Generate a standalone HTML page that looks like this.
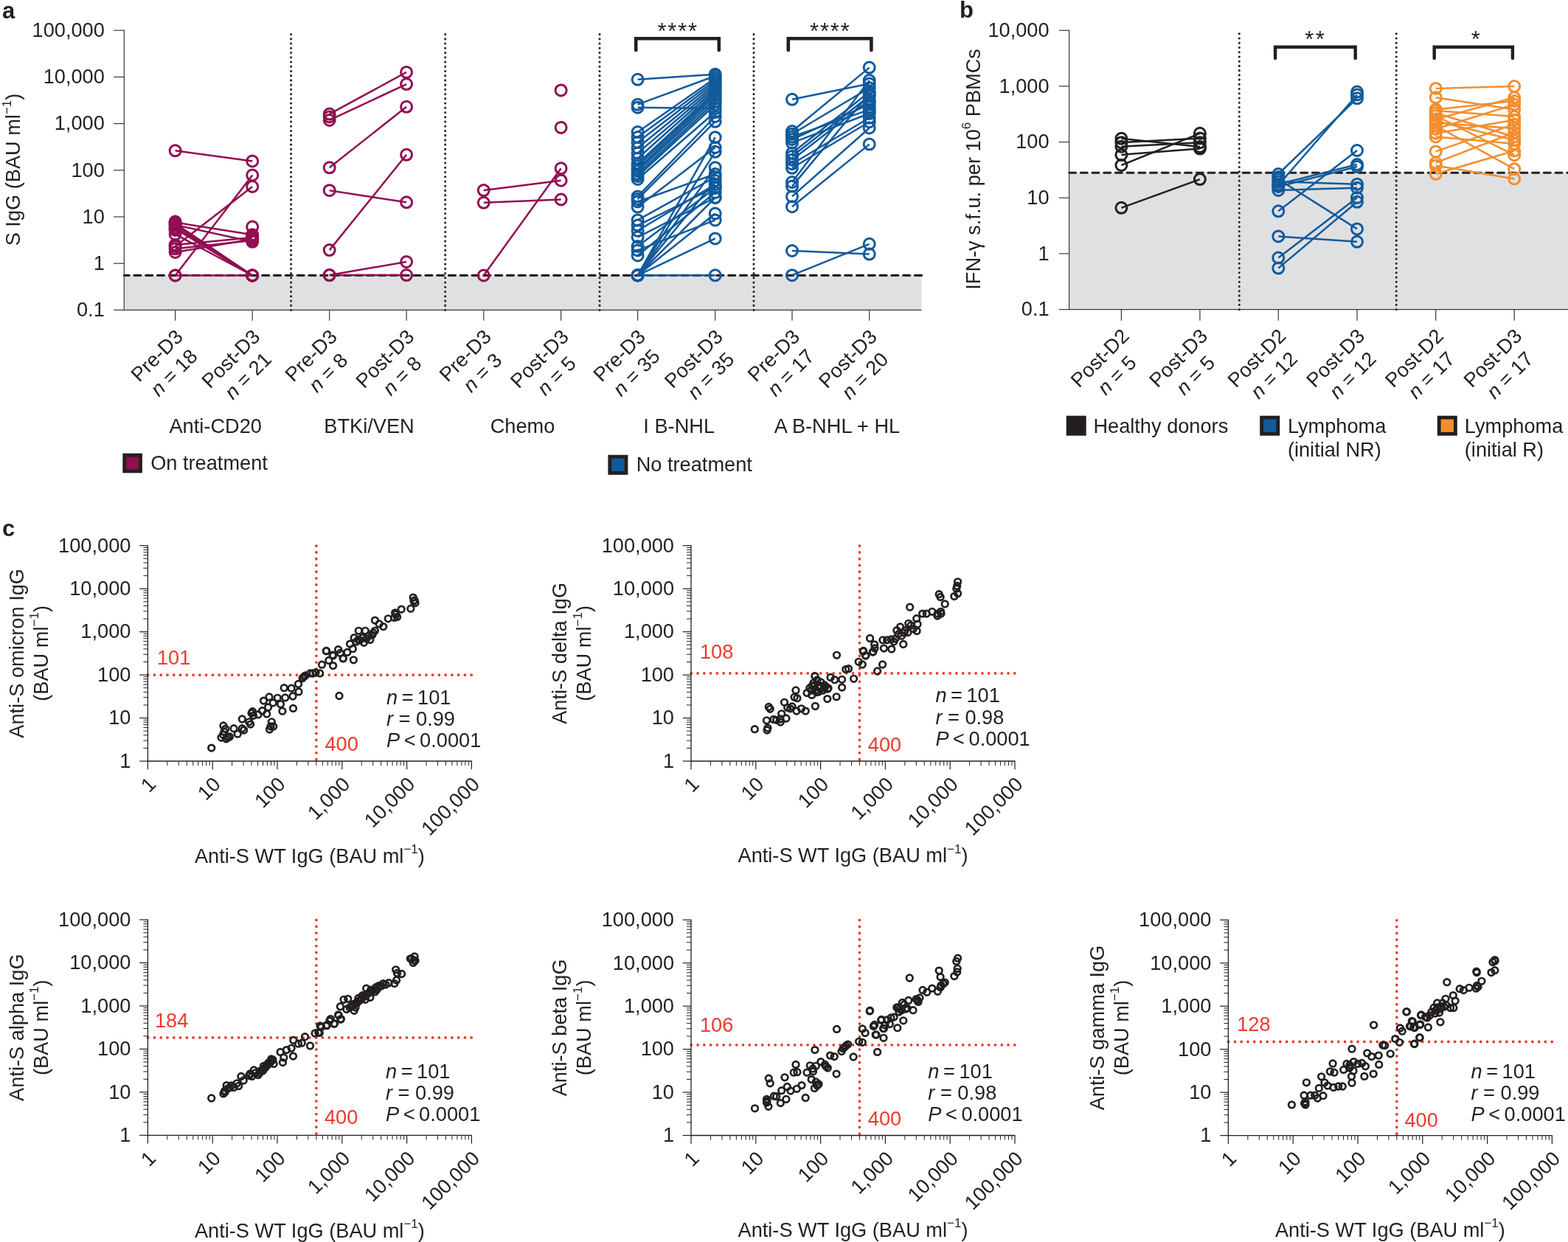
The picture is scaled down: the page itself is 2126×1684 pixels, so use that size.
<!DOCTYPE html>
<html><head><meta charset="utf-8"><title>Figure</title>
<style>
html,body{margin:0;padding:0;background:#fff;}
svg{display:block;}
text{font-family:"Liberation Sans",Arial,Helvetica,sans-serif;}
</style></head>
<body>
<svg width="2126" height="1684" viewBox="0 0 2126 1684" fill="#231f20">
<rect x="0" y="0" width="2126" height="1684" fill="#fff"/>
<text x="3.00" y="24.60" font-size="31" font-weight="bold">a</text>
<text x="1301.00" y="24.30" font-size="31" font-weight="bold">b</text>
<text x="3.00" y="727.20" font-size="31" font-weight="bold">c</text>
<rect x="168.3" y="373.3" width="1081.2" height="47.10000000000002" fill="#dfe0e2"/>
<line x1="394.60" y1="420.40" x2="394.60" y2="40.50" stroke="#231f20" stroke-width="3.1" stroke-dasharray="0 6.23" stroke-linecap="round"/>
<line x1="603.70" y1="420.40" x2="603.70" y2="40.50" stroke="#231f20" stroke-width="3.1" stroke-dasharray="0 6.23" stroke-linecap="round"/>
<line x1="813.00" y1="420.40" x2="813.00" y2="40.50" stroke="#231f20" stroke-width="3.1" stroke-dasharray="0 6.23" stroke-linecap="round"/>
<line x1="1022.00" y1="420.40" x2="1022.00" y2="40.50" stroke="#231f20" stroke-width="3.1" stroke-dasharray="0 6.23" stroke-linecap="round"/>
<line x1="1249.50" y1="373.30" x2="168.30" y2="373.30" stroke="#231f20" stroke-width="3.2" stroke-dasharray="9.0 6.8" stroke-linecap="round"/>
<line x1="168.30" y1="40.60" x2="168.30" y2="421.00" stroke="#3a3a3a" stroke-width="1.2"/>
<line x1="168.30" y1="420.40" x2="1249.50" y2="420.40" stroke="#3a3a3a" stroke-width="1.2"/>
<line x1="154.00" y1="41.20" x2="168.30" y2="41.20" stroke="#3a3a3a" stroke-width="1.2"/>
<text x="141.80" y="50.00" font-size="27.2" text-anchor="end">100,000</text>
<line x1="154.00" y1="104.40" x2="168.30" y2="104.40" stroke="#3a3a3a" stroke-width="1.2"/>
<text x="141.80" y="113.20" font-size="27.2" text-anchor="end">10,000</text>
<line x1="154.00" y1="167.60" x2="168.30" y2="167.60" stroke="#3a3a3a" stroke-width="1.2"/>
<text x="141.80" y="176.40" font-size="27.2" text-anchor="end">1,000</text>
<line x1="154.00" y1="230.80" x2="168.30" y2="230.80" stroke="#3a3a3a" stroke-width="1.2"/>
<text x="141.80" y="239.60" font-size="27.2" text-anchor="end">100</text>
<line x1="154.00" y1="294.00" x2="168.30" y2="294.00" stroke="#3a3a3a" stroke-width="1.2"/>
<text x="141.80" y="302.80" font-size="27.2" text-anchor="end">10</text>
<line x1="154.00" y1="357.20" x2="168.30" y2="357.20" stroke="#3a3a3a" stroke-width="1.2"/>
<text x="141.80" y="366.00" font-size="27.2" text-anchor="end">1</text>
<line x1="154.00" y1="420.40" x2="168.30" y2="420.40" stroke="#3a3a3a" stroke-width="1.2"/>
<text x="141.80" y="429.20" font-size="27.2" text-anchor="end">0.1</text>
<text transform="translate(27.0,230) rotate(-90)" font-size="27.2" text-anchor="middle">S IgG (BAU ml<tspan dy="-12.5" font-size="17">−1</tspan><tspan dy="12.5">)</tspan></text>
<line x1="237.60" y1="204.30" x2="342.20" y2="218.50" stroke="#910e51" stroke-width="2.5"/>
<line x1="237.60" y1="373.50" x2="342.20" y2="237.50" stroke="#910e51" stroke-width="2.5"/>
<line x1="237.60" y1="334.00" x2="342.20" y2="253.00" stroke="#910e51" stroke-width="2.5"/>
<line x1="237.60" y1="301.60" x2="342.20" y2="318.30" stroke="#910e51" stroke-width="2.5"/>
<line x1="237.60" y1="303.00" x2="342.20" y2="373.50" stroke="#910e51" stroke-width="2.5"/>
<line x1="237.60" y1="305.80" x2="342.20" y2="373.50" stroke="#910e51" stroke-width="2.5"/>
<line x1="237.60" y1="308.80" x2="342.20" y2="373.50" stroke="#910e51" stroke-width="2.5"/>
<line x1="237.60" y1="310.00" x2="342.20" y2="373.50" stroke="#910e51" stroke-width="2.5"/>
<line x1="237.60" y1="317.70" x2="342.20" y2="373.50" stroke="#910e51" stroke-width="2.5"/>
<line x1="237.60" y1="337.30" x2="342.20" y2="326.00" stroke="#910e51" stroke-width="2.5"/>
<line x1="237.60" y1="342.00" x2="342.20" y2="324.20" stroke="#910e51" stroke-width="2.5"/>
<line x1="237.60" y1="373.50" x2="342.20" y2="373.50" stroke="#910e51" stroke-width="2.5"/>
<line x1="237.60" y1="305.00" x2="342.20" y2="327.80" stroke="#910e51" stroke-width="2.5"/>
<line x1="237.60" y1="332.00" x2="342.20" y2="322.00" stroke="#910e51" stroke-width="2.5"/>
<circle cx="237.6" cy="204.3" r="7.5" fill="none" stroke="#910e51" stroke-width="3.0"/>
<circle cx="342.2" cy="218.5" r="7.5" fill="none" stroke="#910e51" stroke-width="3.0"/>
<circle cx="237.6" cy="373.5" r="7.5" fill="none" stroke="#910e51" stroke-width="3.0"/>
<circle cx="342.2" cy="237.5" r="7.5" fill="none" stroke="#910e51" stroke-width="3.0"/>
<circle cx="237.6" cy="334" r="7.5" fill="none" stroke="#910e51" stroke-width="3.0"/>
<circle cx="342.2" cy="253" r="7.5" fill="none" stroke="#910e51" stroke-width="3.0"/>
<circle cx="237.6" cy="301.6" r="7.5" fill="none" stroke="#910e51" stroke-width="3.0"/>
<circle cx="342.2" cy="318.3" r="7.5" fill="none" stroke="#910e51" stroke-width="3.0"/>
<circle cx="237.6" cy="303" r="7.5" fill="none" stroke="#910e51" stroke-width="3.0"/>
<circle cx="342.2" cy="373.5" r="7.5" fill="none" stroke="#910e51" stroke-width="3.0"/>
<circle cx="237.6" cy="305.8" r="7.5" fill="none" stroke="#910e51" stroke-width="3.0"/>
<circle cx="342.2" cy="373.5" r="7.5" fill="none" stroke="#910e51" stroke-width="3.0"/>
<circle cx="237.6" cy="308.8" r="7.5" fill="none" stroke="#910e51" stroke-width="3.0"/>
<circle cx="342.2" cy="373.5" r="7.5" fill="none" stroke="#910e51" stroke-width="3.0"/>
<circle cx="237.6" cy="310" r="7.5" fill="none" stroke="#910e51" stroke-width="3.0"/>
<circle cx="342.2" cy="373.5" r="7.5" fill="none" stroke="#910e51" stroke-width="3.0"/>
<circle cx="237.6" cy="317.7" r="7.5" fill="none" stroke="#910e51" stroke-width="3.0"/>
<circle cx="342.2" cy="373.5" r="7.5" fill="none" stroke="#910e51" stroke-width="3.0"/>
<circle cx="237.6" cy="337.3" r="7.5" fill="none" stroke="#910e51" stroke-width="3.0"/>
<circle cx="342.2" cy="326" r="7.5" fill="none" stroke="#910e51" stroke-width="3.0"/>
<circle cx="237.6" cy="342" r="7.5" fill="none" stroke="#910e51" stroke-width="3.0"/>
<circle cx="342.2" cy="324.2" r="7.5" fill="none" stroke="#910e51" stroke-width="3.0"/>
<circle cx="237.6" cy="373.5" r="7.5" fill="none" stroke="#910e51" stroke-width="3.0"/>
<circle cx="342.2" cy="373.5" r="7.5" fill="none" stroke="#910e51" stroke-width="3.0"/>
<circle cx="237.6" cy="305" r="7.5" fill="none" stroke="#910e51" stroke-width="3.0"/>
<circle cx="342.2" cy="327.8" r="7.5" fill="none" stroke="#910e51" stroke-width="3.0"/>
<circle cx="237.6" cy="332" r="7.5" fill="none" stroke="#910e51" stroke-width="3.0"/>
<circle cx="342.2" cy="322" r="7.5" fill="none" stroke="#910e51" stroke-width="3.0"/>
<circle cx="237.6" cy="300.5" r="7.5" fill="none" stroke="#910e51" stroke-width="3.0"/>
<circle cx="237.6" cy="312" r="7.5" fill="none" stroke="#910e51" stroke-width="3.0"/>
<circle cx="342.2" cy="307.6" r="7.5" fill="none" stroke="#910e51" stroke-width="3.0"/>
<circle cx="342.2" cy="320" r="7.5" fill="none" stroke="#910e51" stroke-width="3.0"/>
<line x1="446.70" y1="154.60" x2="551.10" y2="97.90" stroke="#910e51" stroke-width="2.5"/>
<line x1="446.70" y1="162.90" x2="551.10" y2="114.10" stroke="#910e51" stroke-width="2.5"/>
<line x1="446.70" y1="227.30" x2="551.10" y2="144.80" stroke="#910e51" stroke-width="2.5"/>
<line x1="446.70" y1="258.20" x2="551.10" y2="274.30" stroke="#910e51" stroke-width="2.5"/>
<line x1="446.70" y1="339.10" x2="551.10" y2="209.80" stroke="#910e51" stroke-width="2.5"/>
<line x1="446.70" y1="373.10" x2="551.10" y2="354.90" stroke="#910e51" stroke-width="2.5"/>
<line x1="446.70" y1="373.10" x2="551.10" y2="373.10" stroke="#910e51" stroke-width="2.5"/>
<circle cx="446.7" cy="154.6" r="7.5" fill="none" stroke="#910e51" stroke-width="3.0"/>
<circle cx="551.1" cy="97.9" r="7.5" fill="none" stroke="#910e51" stroke-width="3.0"/>
<circle cx="446.7" cy="162.9" r="7.5" fill="none" stroke="#910e51" stroke-width="3.0"/>
<circle cx="551.1" cy="114.1" r="7.5" fill="none" stroke="#910e51" stroke-width="3.0"/>
<circle cx="446.7" cy="227.3" r="7.5" fill="none" stroke="#910e51" stroke-width="3.0"/>
<circle cx="551.1" cy="144.8" r="7.5" fill="none" stroke="#910e51" stroke-width="3.0"/>
<circle cx="446.7" cy="258.2" r="7.5" fill="none" stroke="#910e51" stroke-width="3.0"/>
<circle cx="551.1" cy="274.3" r="7.5" fill="none" stroke="#910e51" stroke-width="3.0"/>
<circle cx="446.7" cy="339.1" r="7.5" fill="none" stroke="#910e51" stroke-width="3.0"/>
<circle cx="551.1" cy="209.8" r="7.5" fill="none" stroke="#910e51" stroke-width="3.0"/>
<circle cx="446.7" cy="373.1" r="7.5" fill="none" stroke="#910e51" stroke-width="3.0"/>
<circle cx="551.1" cy="354.9" r="7.5" fill="none" stroke="#910e51" stroke-width="3.0"/>
<circle cx="446.7" cy="373.1" r="7.5" fill="none" stroke="#910e51" stroke-width="3.0"/>
<circle cx="551.1" cy="373.1" r="7.5" fill="none" stroke="#910e51" stroke-width="3.0"/>
<circle cx="446.7" cy="158.5" r="7.5" fill="none" stroke="#910e51" stroke-width="3.0"/>
<line x1="655.80" y1="258.10" x2="760.60" y2="244.70" stroke="#910e51" stroke-width="2.5"/>
<line x1="655.80" y1="274.80" x2="760.60" y2="270.50" stroke="#910e51" stroke-width="2.5"/>
<line x1="655.80" y1="373.50" x2="760.60" y2="228.30" stroke="#910e51" stroke-width="2.5"/>
<circle cx="655.8" cy="258.1" r="7.5" fill="none" stroke="#910e51" stroke-width="3.0"/>
<circle cx="760.6" cy="244.7" r="7.5" fill="none" stroke="#910e51" stroke-width="3.0"/>
<circle cx="655.8" cy="274.8" r="7.5" fill="none" stroke="#910e51" stroke-width="3.0"/>
<circle cx="760.6" cy="270.5" r="7.5" fill="none" stroke="#910e51" stroke-width="3.0"/>
<circle cx="655.8" cy="373.5" r="7.5" fill="none" stroke="#910e51" stroke-width="3.0"/>
<circle cx="760.6" cy="228.3" r="7.5" fill="none" stroke="#910e51" stroke-width="3.0"/>
<circle cx="760.6" cy="122.4" r="7.5" fill="none" stroke="#910e51" stroke-width="3.0"/>
<circle cx="760.6" cy="172.9" r="7.5" fill="none" stroke="#910e51" stroke-width="3.0"/>
<line x1="864.60" y1="107.80" x2="969.70" y2="100.70" stroke="#115a9b" stroke-width="2.5"/>
<line x1="864.60" y1="141.70" x2="969.70" y2="103.00" stroke="#115a9b" stroke-width="2.5"/>
<line x1="864.60" y1="145.70" x2="969.70" y2="147.00" stroke="#115a9b" stroke-width="2.5"/>
<line x1="864.60" y1="179.00" x2="969.70" y2="106.00" stroke="#115a9b" stroke-width="2.5"/>
<line x1="864.60" y1="186.00" x2="969.70" y2="109.00" stroke="#115a9b" stroke-width="2.5"/>
<line x1="864.60" y1="193.00" x2="969.70" y2="112.00" stroke="#115a9b" stroke-width="2.5"/>
<line x1="864.60" y1="200.50" x2="969.70" y2="115.00" stroke="#115a9b" stroke-width="2.5"/>
<line x1="864.60" y1="207.60" x2="969.70" y2="118.00" stroke="#115a9b" stroke-width="2.5"/>
<line x1="864.60" y1="214.70" x2="969.70" y2="121.00" stroke="#115a9b" stroke-width="2.5"/>
<line x1="864.60" y1="221.80" x2="969.70" y2="124.00" stroke="#115a9b" stroke-width="2.5"/>
<line x1="864.60" y1="225.00" x2="969.70" y2="127.00" stroke="#115a9b" stroke-width="2.5"/>
<line x1="864.60" y1="229.00" x2="969.70" y2="130.00" stroke="#115a9b" stroke-width="2.5"/>
<line x1="864.60" y1="232.00" x2="969.70" y2="134.00" stroke="#115a9b" stroke-width="2.5"/>
<line x1="864.60" y1="236.00" x2="969.70" y2="138.00" stroke="#115a9b" stroke-width="2.5"/>
<line x1="864.60" y1="239.00" x2="969.70" y2="142.00" stroke="#115a9b" stroke-width="2.5"/>
<line x1="864.60" y1="243.00" x2="969.70" y2="152.00" stroke="#115a9b" stroke-width="2.5"/>
<line x1="864.60" y1="266.40" x2="969.70" y2="158.00" stroke="#115a9b" stroke-width="2.5"/>
<line x1="864.60" y1="270.00" x2="969.70" y2="164.80" stroke="#115a9b" stroke-width="2.5"/>
<line x1="864.60" y1="273.50" x2="969.70" y2="236.00" stroke="#115a9b" stroke-width="2.5"/>
<line x1="864.60" y1="280.60" x2="969.70" y2="200.00" stroke="#115a9b" stroke-width="2.5"/>
<line x1="864.60" y1="298.40" x2="969.70" y2="240.00" stroke="#115a9b" stroke-width="2.5"/>
<line x1="864.60" y1="305.60" x2="969.70" y2="254.00" stroke="#115a9b" stroke-width="2.5"/>
<line x1="864.60" y1="312.70" x2="969.70" y2="250.00" stroke="#115a9b" stroke-width="2.5"/>
<line x1="864.60" y1="321.60" x2="969.70" y2="268.00" stroke="#115a9b" stroke-width="2.5"/>
<line x1="864.60" y1="334.00" x2="969.70" y2="255.00" stroke="#115a9b" stroke-width="2.5"/>
<line x1="864.60" y1="339.40" x2="969.70" y2="298.40" stroke="#115a9b" stroke-width="2.5"/>
<line x1="864.60" y1="346.50" x2="969.70" y2="261.00" stroke="#115a9b" stroke-width="2.5"/>
<line x1="864.60" y1="373.30" x2="969.70" y2="186.20" stroke="#115a9b" stroke-width="2.5"/>
<line x1="864.60" y1="373.30" x2="969.70" y2="205.80" stroke="#115a9b" stroke-width="2.5"/>
<line x1="864.60" y1="373.30" x2="969.70" y2="227.20" stroke="#115a9b" stroke-width="2.5"/>
<line x1="864.60" y1="373.30" x2="969.70" y2="245.00" stroke="#115a9b" stroke-width="2.5"/>
<line x1="864.60" y1="373.30" x2="969.70" y2="289.50" stroke="#115a9b" stroke-width="2.5"/>
<line x1="864.60" y1="373.30" x2="969.70" y2="323.40" stroke="#115a9b" stroke-width="2.5"/>
<line x1="864.60" y1="373.30" x2="969.70" y2="373.30" stroke="#115a9b" stroke-width="2.5"/>
<line x1="864.60" y1="373.30" x2="969.70" y2="268.00" stroke="#115a9b" stroke-width="2.5"/>
<circle cx="864.6" cy="107.8" r="7.5" fill="none" stroke="#115a9b" stroke-width="3.0"/>
<circle cx="969.7" cy="100.7" r="7.5" fill="none" stroke="#115a9b" stroke-width="3.0"/>
<circle cx="864.6" cy="141.7" r="7.5" fill="none" stroke="#115a9b" stroke-width="3.0"/>
<circle cx="969.7" cy="103" r="7.5" fill="none" stroke="#115a9b" stroke-width="3.0"/>
<circle cx="864.6" cy="145.7" r="7.5" fill="none" stroke="#115a9b" stroke-width="3.0"/>
<circle cx="969.7" cy="147" r="7.5" fill="none" stroke="#115a9b" stroke-width="3.0"/>
<circle cx="864.6" cy="179" r="7.5" fill="none" stroke="#115a9b" stroke-width="3.0"/>
<circle cx="969.7" cy="106" r="7.5" fill="none" stroke="#115a9b" stroke-width="3.0"/>
<circle cx="864.6" cy="186" r="7.5" fill="none" stroke="#115a9b" stroke-width="3.0"/>
<circle cx="969.7" cy="109" r="7.5" fill="none" stroke="#115a9b" stroke-width="3.0"/>
<circle cx="864.6" cy="193" r="7.5" fill="none" stroke="#115a9b" stroke-width="3.0"/>
<circle cx="969.7" cy="112" r="7.5" fill="none" stroke="#115a9b" stroke-width="3.0"/>
<circle cx="864.6" cy="200.5" r="7.5" fill="none" stroke="#115a9b" stroke-width="3.0"/>
<circle cx="969.7" cy="115" r="7.5" fill="none" stroke="#115a9b" stroke-width="3.0"/>
<circle cx="864.6" cy="207.6" r="7.5" fill="none" stroke="#115a9b" stroke-width="3.0"/>
<circle cx="969.7" cy="118" r="7.5" fill="none" stroke="#115a9b" stroke-width="3.0"/>
<circle cx="864.6" cy="214.7" r="7.5" fill="none" stroke="#115a9b" stroke-width="3.0"/>
<circle cx="969.7" cy="121" r="7.5" fill="none" stroke="#115a9b" stroke-width="3.0"/>
<circle cx="864.6" cy="221.8" r="7.5" fill="none" stroke="#115a9b" stroke-width="3.0"/>
<circle cx="969.7" cy="124" r="7.5" fill="none" stroke="#115a9b" stroke-width="3.0"/>
<circle cx="864.6" cy="225" r="7.5" fill="none" stroke="#115a9b" stroke-width="3.0"/>
<circle cx="969.7" cy="127" r="7.5" fill="none" stroke="#115a9b" stroke-width="3.0"/>
<circle cx="864.6" cy="229" r="7.5" fill="none" stroke="#115a9b" stroke-width="3.0"/>
<circle cx="969.7" cy="130" r="7.5" fill="none" stroke="#115a9b" stroke-width="3.0"/>
<circle cx="864.6" cy="232" r="7.5" fill="none" stroke="#115a9b" stroke-width="3.0"/>
<circle cx="969.7" cy="134" r="7.5" fill="none" stroke="#115a9b" stroke-width="3.0"/>
<circle cx="864.6" cy="236" r="7.5" fill="none" stroke="#115a9b" stroke-width="3.0"/>
<circle cx="969.7" cy="138" r="7.5" fill="none" stroke="#115a9b" stroke-width="3.0"/>
<circle cx="864.6" cy="239" r="7.5" fill="none" stroke="#115a9b" stroke-width="3.0"/>
<circle cx="969.7" cy="142" r="7.5" fill="none" stroke="#115a9b" stroke-width="3.0"/>
<circle cx="864.6" cy="243" r="7.5" fill="none" stroke="#115a9b" stroke-width="3.0"/>
<circle cx="969.7" cy="152" r="7.5" fill="none" stroke="#115a9b" stroke-width="3.0"/>
<circle cx="864.6" cy="266.4" r="7.5" fill="none" stroke="#115a9b" stroke-width="3.0"/>
<circle cx="969.7" cy="158" r="7.5" fill="none" stroke="#115a9b" stroke-width="3.0"/>
<circle cx="864.6" cy="270" r="7.5" fill="none" stroke="#115a9b" stroke-width="3.0"/>
<circle cx="969.7" cy="164.8" r="7.5" fill="none" stroke="#115a9b" stroke-width="3.0"/>
<circle cx="864.6" cy="273.5" r="7.5" fill="none" stroke="#115a9b" stroke-width="3.0"/>
<circle cx="969.7" cy="236" r="7.5" fill="none" stroke="#115a9b" stroke-width="3.0"/>
<circle cx="864.6" cy="280.6" r="7.5" fill="none" stroke="#115a9b" stroke-width="3.0"/>
<circle cx="969.7" cy="200" r="7.5" fill="none" stroke="#115a9b" stroke-width="3.0"/>
<circle cx="864.6" cy="298.4" r="7.5" fill="none" stroke="#115a9b" stroke-width="3.0"/>
<circle cx="969.7" cy="240" r="7.5" fill="none" stroke="#115a9b" stroke-width="3.0"/>
<circle cx="864.6" cy="305.6" r="7.5" fill="none" stroke="#115a9b" stroke-width="3.0"/>
<circle cx="969.7" cy="254" r="7.5" fill="none" stroke="#115a9b" stroke-width="3.0"/>
<circle cx="864.6" cy="312.7" r="7.5" fill="none" stroke="#115a9b" stroke-width="3.0"/>
<circle cx="969.7" cy="250" r="7.5" fill="none" stroke="#115a9b" stroke-width="3.0"/>
<circle cx="864.6" cy="321.6" r="7.5" fill="none" stroke="#115a9b" stroke-width="3.0"/>
<circle cx="969.7" cy="268" r="7.5" fill="none" stroke="#115a9b" stroke-width="3.0"/>
<circle cx="864.6" cy="334" r="7.5" fill="none" stroke="#115a9b" stroke-width="3.0"/>
<circle cx="969.7" cy="255" r="7.5" fill="none" stroke="#115a9b" stroke-width="3.0"/>
<circle cx="864.6" cy="339.4" r="7.5" fill="none" stroke="#115a9b" stroke-width="3.0"/>
<circle cx="969.7" cy="298.4" r="7.5" fill="none" stroke="#115a9b" stroke-width="3.0"/>
<circle cx="864.6" cy="346.5" r="7.5" fill="none" stroke="#115a9b" stroke-width="3.0"/>
<circle cx="969.7" cy="261" r="7.5" fill="none" stroke="#115a9b" stroke-width="3.0"/>
<circle cx="864.6" cy="373.3" r="7.5" fill="none" stroke="#115a9b" stroke-width="3.0"/>
<circle cx="969.7" cy="186.2" r="7.5" fill="none" stroke="#115a9b" stroke-width="3.0"/>
<circle cx="864.6" cy="373.3" r="7.5" fill="none" stroke="#115a9b" stroke-width="3.0"/>
<circle cx="969.7" cy="205.8" r="7.5" fill="none" stroke="#115a9b" stroke-width="3.0"/>
<circle cx="864.6" cy="373.3" r="7.5" fill="none" stroke="#115a9b" stroke-width="3.0"/>
<circle cx="969.7" cy="227.2" r="7.5" fill="none" stroke="#115a9b" stroke-width="3.0"/>
<circle cx="864.6" cy="373.3" r="7.5" fill="none" stroke="#115a9b" stroke-width="3.0"/>
<circle cx="969.7" cy="245" r="7.5" fill="none" stroke="#115a9b" stroke-width="3.0"/>
<circle cx="864.6" cy="373.3" r="7.5" fill="none" stroke="#115a9b" stroke-width="3.0"/>
<circle cx="969.7" cy="289.5" r="7.5" fill="none" stroke="#115a9b" stroke-width="3.0"/>
<circle cx="864.6" cy="373.3" r="7.5" fill="none" stroke="#115a9b" stroke-width="3.0"/>
<circle cx="969.7" cy="323.4" r="7.5" fill="none" stroke="#115a9b" stroke-width="3.0"/>
<circle cx="864.6" cy="373.3" r="7.5" fill="none" stroke="#115a9b" stroke-width="3.0"/>
<circle cx="969.7" cy="373.3" r="7.5" fill="none" stroke="#115a9b" stroke-width="3.0"/>
<circle cx="864.6" cy="373.3" r="7.5" fill="none" stroke="#115a9b" stroke-width="3.0"/>
<circle cx="969.7" cy="268" r="7.5" fill="none" stroke="#115a9b" stroke-width="3.0"/>
<line x1="1074.00" y1="134.80" x2="1178.70" y2="113.60" stroke="#115a9b" stroke-width="2.5"/>
<line x1="1074.00" y1="178.00" x2="1178.70" y2="91.60" stroke="#115a9b" stroke-width="2.5"/>
<line x1="1074.00" y1="181.80" x2="1178.70" y2="119.20" stroke="#115a9b" stroke-width="2.5"/>
<line x1="1074.00" y1="185.40" x2="1178.70" y2="148.60" stroke="#115a9b" stroke-width="2.5"/>
<line x1="1074.00" y1="189.00" x2="1178.70" y2="141.30" stroke="#115a9b" stroke-width="2.5"/>
<line x1="1074.00" y1="193.70" x2="1178.70" y2="154.00" stroke="#115a9b" stroke-width="2.5"/>
<line x1="1074.00" y1="207.50" x2="1178.70" y2="124.70" stroke="#115a9b" stroke-width="2.5"/>
<line x1="1074.00" y1="212.00" x2="1178.70" y2="130.20" stroke="#115a9b" stroke-width="2.5"/>
<line x1="1074.00" y1="216.70" x2="1178.70" y2="135.70" stroke="#115a9b" stroke-width="2.5"/>
<line x1="1074.00" y1="222.20" x2="1178.70" y2="159.70" stroke="#115a9b" stroke-width="2.5"/>
<line x1="1074.00" y1="227.80" x2="1178.70" y2="165.20" stroke="#115a9b" stroke-width="2.5"/>
<line x1="1074.00" y1="247.00" x2="1178.70" y2="109.00" stroke="#115a9b" stroke-width="2.5"/>
<line x1="1074.00" y1="252.60" x2="1178.70" y2="127.00" stroke="#115a9b" stroke-width="2.5"/>
<line x1="1074.00" y1="266.40" x2="1178.70" y2="173.50" stroke="#115a9b" stroke-width="2.5"/>
<line x1="1074.00" y1="280.20" x2="1178.70" y2="195.60" stroke="#115a9b" stroke-width="2.5"/>
<line x1="1074.00" y1="340.00" x2="1178.70" y2="344.60" stroke="#115a9b" stroke-width="2.5"/>
<line x1="1074.00" y1="373.20" x2="1178.70" y2="330.80" stroke="#115a9b" stroke-width="2.5"/>
<circle cx="1074.0" cy="134.8" r="7.5" fill="none" stroke="#115a9b" stroke-width="3.0"/>
<circle cx="1178.7" cy="113.6" r="7.5" fill="none" stroke="#115a9b" stroke-width="3.0"/>
<circle cx="1074.0" cy="178" r="7.5" fill="none" stroke="#115a9b" stroke-width="3.0"/>
<circle cx="1178.7" cy="91.6" r="7.5" fill="none" stroke="#115a9b" stroke-width="3.0"/>
<circle cx="1074.0" cy="181.8" r="7.5" fill="none" stroke="#115a9b" stroke-width="3.0"/>
<circle cx="1178.7" cy="119.2" r="7.5" fill="none" stroke="#115a9b" stroke-width="3.0"/>
<circle cx="1074.0" cy="185.4" r="7.5" fill="none" stroke="#115a9b" stroke-width="3.0"/>
<circle cx="1178.7" cy="148.6" r="7.5" fill="none" stroke="#115a9b" stroke-width="3.0"/>
<circle cx="1074.0" cy="189" r="7.5" fill="none" stroke="#115a9b" stroke-width="3.0"/>
<circle cx="1178.7" cy="141.3" r="7.5" fill="none" stroke="#115a9b" stroke-width="3.0"/>
<circle cx="1074.0" cy="193.7" r="7.5" fill="none" stroke="#115a9b" stroke-width="3.0"/>
<circle cx="1178.7" cy="154" r="7.5" fill="none" stroke="#115a9b" stroke-width="3.0"/>
<circle cx="1074.0" cy="207.5" r="7.5" fill="none" stroke="#115a9b" stroke-width="3.0"/>
<circle cx="1178.7" cy="124.7" r="7.5" fill="none" stroke="#115a9b" stroke-width="3.0"/>
<circle cx="1074.0" cy="212" r="7.5" fill="none" stroke="#115a9b" stroke-width="3.0"/>
<circle cx="1178.7" cy="130.2" r="7.5" fill="none" stroke="#115a9b" stroke-width="3.0"/>
<circle cx="1074.0" cy="216.7" r="7.5" fill="none" stroke="#115a9b" stroke-width="3.0"/>
<circle cx="1178.7" cy="135.7" r="7.5" fill="none" stroke="#115a9b" stroke-width="3.0"/>
<circle cx="1074.0" cy="222.2" r="7.5" fill="none" stroke="#115a9b" stroke-width="3.0"/>
<circle cx="1178.7" cy="159.7" r="7.5" fill="none" stroke="#115a9b" stroke-width="3.0"/>
<circle cx="1074.0" cy="227.8" r="7.5" fill="none" stroke="#115a9b" stroke-width="3.0"/>
<circle cx="1178.7" cy="165.2" r="7.5" fill="none" stroke="#115a9b" stroke-width="3.0"/>
<circle cx="1074.0" cy="247" r="7.5" fill="none" stroke="#115a9b" stroke-width="3.0"/>
<circle cx="1178.7" cy="109" r="7.5" fill="none" stroke="#115a9b" stroke-width="3.0"/>
<circle cx="1074.0" cy="252.6" r="7.5" fill="none" stroke="#115a9b" stroke-width="3.0"/>
<circle cx="1178.7" cy="127" r="7.5" fill="none" stroke="#115a9b" stroke-width="3.0"/>
<circle cx="1074.0" cy="266.4" r="7.5" fill="none" stroke="#115a9b" stroke-width="3.0"/>
<circle cx="1178.7" cy="173.5" r="7.5" fill="none" stroke="#115a9b" stroke-width="3.0"/>
<circle cx="1074.0" cy="280.2" r="7.5" fill="none" stroke="#115a9b" stroke-width="3.0"/>
<circle cx="1178.7" cy="195.6" r="7.5" fill="none" stroke="#115a9b" stroke-width="3.0"/>
<circle cx="1074.0" cy="340" r="7.5" fill="none" stroke="#115a9b" stroke-width="3.0"/>
<circle cx="1178.7" cy="344.6" r="7.5" fill="none" stroke="#115a9b" stroke-width="3.0"/>
<circle cx="1074.0" cy="373.2" r="7.5" fill="none" stroke="#115a9b" stroke-width="3.0"/>
<circle cx="1178.7" cy="330.8" r="7.5" fill="none" stroke="#115a9b" stroke-width="3.0"/>
<circle cx="1178.7" cy="138" r="7.5" fill="none" stroke="#115a9b" stroke-width="3.0"/>
<circle cx="1178.7" cy="145" r="7.5" fill="none" stroke="#115a9b" stroke-width="3.0"/>
<circle cx="1178.7" cy="151" r="7.5" fill="none" stroke="#115a9b" stroke-width="3.0"/>
<line x1="237.60" y1="420.40" x2="237.60" y2="434.70" stroke="#3a3a3a" stroke-width="1.2"/>
<text transform="translate(249.60,458.20) rotate(-45)" font-size="27.2" text-anchor="middle"><tspan x="-43.07" y="0">Pre-D3</tspan><tspan x="-43.07" y="32.8"><tspan font-style="italic">n</tspan> = 18</tspan></text>
<line x1="342.20" y1="420.40" x2="342.20" y2="434.70" stroke="#3a3a3a" stroke-width="1.2"/>
<text transform="translate(354.20,458.20) rotate(-45)" font-size="27.2" text-anchor="middle"><tspan x="-49.12" y="0">Post-D3</tspan><tspan x="-49.12" y="32.8"><tspan font-style="italic">n</tspan> = 21</tspan></text>
<line x1="446.70" y1="420.40" x2="446.70" y2="434.70" stroke="#3a3a3a" stroke-width="1.2"/>
<text transform="translate(458.70,458.20) rotate(-45)" font-size="27.2" text-anchor="middle"><tspan x="-43.07" y="0">Pre-D3</tspan><tspan x="-43.07" y="32.8"><tspan font-style="italic">n</tspan> = 8</tspan></text>
<line x1="551.10" y1="420.40" x2="551.10" y2="434.70" stroke="#3a3a3a" stroke-width="1.2"/>
<text transform="translate(563.10,458.20) rotate(-45)" font-size="27.2" text-anchor="middle"><tspan x="-49.12" y="0">Post-D3</tspan><tspan x="-49.12" y="32.8"><tspan font-style="italic">n</tspan> = 8</tspan></text>
<line x1="655.80" y1="420.40" x2="655.80" y2="434.70" stroke="#3a3a3a" stroke-width="1.2"/>
<text transform="translate(667.80,458.20) rotate(-45)" font-size="27.2" text-anchor="middle"><tspan x="-43.07" y="0">Pre-D3</tspan><tspan x="-43.07" y="32.8"><tspan font-style="italic">n</tspan> = 3</tspan></text>
<line x1="760.60" y1="420.40" x2="760.60" y2="434.70" stroke="#3a3a3a" stroke-width="1.2"/>
<text transform="translate(772.60,458.20) rotate(-45)" font-size="27.2" text-anchor="middle"><tspan x="-49.12" y="0">Post-D3</tspan><tspan x="-49.12" y="32.8"><tspan font-style="italic">n</tspan> = 5</tspan></text>
<line x1="864.60" y1="420.40" x2="864.60" y2="434.70" stroke="#3a3a3a" stroke-width="1.2"/>
<text transform="translate(876.60,458.20) rotate(-45)" font-size="27.2" text-anchor="middle"><tspan x="-43.07" y="0">Pre-D3</tspan><tspan x="-43.07" y="32.8"><tspan font-style="italic">n</tspan> = 35</tspan></text>
<line x1="969.70" y1="420.40" x2="969.70" y2="434.70" stroke="#3a3a3a" stroke-width="1.2"/>
<text transform="translate(981.70,458.20) rotate(-45)" font-size="27.2" text-anchor="middle"><tspan x="-49.12" y="0">Post-D3</tspan><tspan x="-49.12" y="32.8"><tspan font-style="italic">n</tspan> = 35</tspan></text>
<line x1="1074.00" y1="420.40" x2="1074.00" y2="434.70" stroke="#3a3a3a" stroke-width="1.2"/>
<text transform="translate(1086.00,458.20) rotate(-45)" font-size="27.2" text-anchor="middle"><tspan x="-43.07" y="0">Pre-D3</tspan><tspan x="-43.07" y="32.8"><tspan font-style="italic">n</tspan> = 17</tspan></text>
<line x1="1178.70" y1="420.40" x2="1178.70" y2="434.70" stroke="#3a3a3a" stroke-width="1.2"/>
<text transform="translate(1190.70,458.20) rotate(-45)" font-size="27.2" text-anchor="middle"><tspan x="-49.12" y="0">Post-D3</tspan><tspan x="-49.12" y="32.8"><tspan font-style="italic">n</tspan> = 20</tspan></text>
<text x="292.20" y="587.00" font-size="27.2" text-anchor="middle">Anti-CD20</text>
<text x="500.50" y="587.00" font-size="27.2" text-anchor="middle">BTKi/VEN</text>
<text x="708.50" y="587.00" font-size="27.2" text-anchor="middle">Chemo</text>
<text x="920.70" y="587.00" font-size="27.2" text-anchor="middle">I B-NHL</text>
<text x="1135.00" y="587.00" font-size="27.2" text-anchor="middle">A B-NHL + HL</text>
<path d="M862.2,68.0 L862.2,52.3 L974.8,52.3 L974.8,68.0" fill="none" stroke="#231f20" stroke-width="4.6" stroke-linecap="round" stroke-linejoin="miter"/>
<path d="M1068.8,68.0 L1068.8,52.3 L1181.4,52.3 L1181.4,68.0" fill="none" stroke="#231f20" stroke-width="4.6" stroke-linecap="round" stroke-linejoin="miter"/>
<text x="897.45" y="52.90" font-size="31" text-anchor="middle">*</text>
<text x="911.35" y="52.90" font-size="31" text-anchor="middle">*</text>
<text x="925.25" y="52.90" font-size="31" text-anchor="middle">*</text>
<text x="939.15" y="52.90" font-size="31" text-anchor="middle">*</text>
<text x="1104.05" y="52.90" font-size="31" text-anchor="middle">*</text>
<text x="1117.95" y="52.90" font-size="31" text-anchor="middle">*</text>
<text x="1131.85" y="52.90" font-size="31" text-anchor="middle">*</text>
<text x="1145.75" y="52.90" font-size="31" text-anchor="middle">*</text>
<rect x="168.70" y="617.10" width="21.80" height="21.80" fill="#910e51" stroke="#231f20" stroke-width="4.8"/>
<text x="204.20" y="637.30" font-size="27.2">On treatment</text>
<rect x="826.80" y="619.20" width="22.20" height="22.20" fill="#115a9b" stroke="#231f20" stroke-width="4.8"/>
<text x="862.70" y="638.70" font-size="27.2">No treatment</text>
<rect x="1449.6" y="234.2" width="676.4000000000001" height="185.40000000000003" fill="#dfe0e2"/>
<line x1="1680.30" y1="419.60" x2="1680.30" y2="40.70" stroke="#231f20" stroke-width="3.1" stroke-dasharray="0 6.23" stroke-linecap="round"/>
<line x1="1893.20" y1="419.60" x2="1893.20" y2="40.70" stroke="#231f20" stroke-width="3.1" stroke-dasharray="0 6.23" stroke-linecap="round"/>
<line x1="1449.60" y1="234.20" x2="2126.00" y2="234.20" stroke="#231f20" stroke-width="2.9" stroke-dasharray="9.0 6.7" stroke-linecap="round"/>
<line x1="1449.60" y1="40.60" x2="1449.60" y2="420.20" stroke="#3a3a3a" stroke-width="1.2"/>
<line x1="1449.60" y1="419.60" x2="2126.00" y2="419.60" stroke="#3a3a3a" stroke-width="1.2"/>
<line x1="1435.80" y1="41.20" x2="1449.60" y2="41.20" stroke="#3a3a3a" stroke-width="1.2"/>
<text x="1422.60" y="50.00" font-size="27.2" text-anchor="end">10,000</text>
<line x1="1435.80" y1="116.88" x2="1449.60" y2="116.88" stroke="#3a3a3a" stroke-width="1.2"/>
<text x="1422.60" y="125.68" font-size="27.2" text-anchor="end">1,000</text>
<line x1="1435.80" y1="192.56" x2="1449.60" y2="192.56" stroke="#3a3a3a" stroke-width="1.2"/>
<text x="1422.60" y="201.36" font-size="27.2" text-anchor="end">100</text>
<line x1="1435.80" y1="268.24" x2="1449.60" y2="268.24" stroke="#3a3a3a" stroke-width="1.2"/>
<text x="1422.60" y="277.04" font-size="27.2" text-anchor="end">10</text>
<line x1="1435.80" y1="343.92" x2="1449.60" y2="343.92" stroke="#3a3a3a" stroke-width="1.2"/>
<text x="1422.60" y="352.72" font-size="27.2" text-anchor="end">1</text>
<line x1="1435.80" y1="419.60" x2="1449.60" y2="419.60" stroke="#3a3a3a" stroke-width="1.2"/>
<text x="1422.60" y="428.40" font-size="27.2" text-anchor="end">0.1</text>
<text transform="translate(1328.7,229.4) rotate(-90)" font-size="27.2" text-anchor="middle">IFN-γ s.f.u. per 10<tspan dy="-12.5" font-size="17">6</tspan><tspan dy="12.5"> PBMCs</tspan></text>
<line x1="1520.40" y1="187.80" x2="1626.90" y2="199.00" stroke="#231f20" stroke-width="2.5"/>
<line x1="1520.40" y1="193.20" x2="1626.90" y2="187.40" stroke="#231f20" stroke-width="2.5"/>
<line x1="1520.40" y1="198.70" x2="1626.90" y2="193.20" stroke="#231f20" stroke-width="2.5"/>
<line x1="1520.40" y1="209.90" x2="1626.90" y2="201.60" stroke="#231f20" stroke-width="2.5"/>
<line x1="1520.40" y1="224.00" x2="1626.90" y2="180.80" stroke="#231f20" stroke-width="2.5"/>
<line x1="1520.40" y1="281.80" x2="1626.90" y2="243.10" stroke="#231f20" stroke-width="2.5"/>
<circle cx="1520.4" cy="187.8" r="7.5" fill="none" stroke="#231f20" stroke-width="3.0"/>
<circle cx="1626.9" cy="199" r="7.5" fill="none" stroke="#231f20" stroke-width="3.0"/>
<circle cx="1520.4" cy="193.2" r="7.5" fill="none" stroke="#231f20" stroke-width="3.0"/>
<circle cx="1626.9" cy="187.4" r="7.5" fill="none" stroke="#231f20" stroke-width="3.0"/>
<circle cx="1520.4" cy="198.7" r="7.5" fill="none" stroke="#231f20" stroke-width="3.0"/>
<circle cx="1626.9" cy="193.2" r="7.5" fill="none" stroke="#231f20" stroke-width="3.0"/>
<circle cx="1520.4" cy="209.9" r="7.5" fill="none" stroke="#231f20" stroke-width="3.0"/>
<circle cx="1626.9" cy="201.6" r="7.5" fill="none" stroke="#231f20" stroke-width="3.0"/>
<circle cx="1520.4" cy="224" r="7.5" fill="none" stroke="#231f20" stroke-width="3.0"/>
<circle cx="1626.9" cy="180.8" r="7.5" fill="none" stroke="#231f20" stroke-width="3.0"/>
<circle cx="1520.4" cy="281.8" r="7.5" fill="none" stroke="#231f20" stroke-width="3.0"/>
<circle cx="1626.9" cy="243.1" r="7.5" fill="none" stroke="#231f20" stroke-width="3.0"/>
<line x1="1733.30" y1="236.00" x2="1840.00" y2="133.30" stroke="#115a9b" stroke-width="2.5"/>
<line x1="1733.30" y1="251.00" x2="1840.00" y2="128.50" stroke="#115a9b" stroke-width="2.5"/>
<line x1="1733.30" y1="249.70" x2="1840.00" y2="223.00" stroke="#115a9b" stroke-width="2.5"/>
<line x1="1733.30" y1="253.00" x2="1840.00" y2="226.00" stroke="#115a9b" stroke-width="2.5"/>
<line x1="1733.30" y1="246.30" x2="1840.00" y2="249.70" stroke="#115a9b" stroke-width="2.5"/>
<line x1="1733.30" y1="243.00" x2="1840.00" y2="310.40" stroke="#115a9b" stroke-width="2.5"/>
<line x1="1733.30" y1="258.00" x2="1840.00" y2="254.70" stroke="#115a9b" stroke-width="2.5"/>
<line x1="1733.30" y1="286.30" x2="1840.00" y2="204.00" stroke="#115a9b" stroke-width="2.5"/>
<line x1="1733.30" y1="320.40" x2="1840.00" y2="327.80" stroke="#115a9b" stroke-width="2.5"/>
<line x1="1733.30" y1="349.50" x2="1840.00" y2="268.00" stroke="#115a9b" stroke-width="2.5"/>
<line x1="1733.30" y1="363.60" x2="1840.00" y2="273.80" stroke="#115a9b" stroke-width="2.5"/>
<circle cx="1733.3" cy="236" r="7.5" fill="none" stroke="#115a9b" stroke-width="3.0"/>
<circle cx="1840.0" cy="133.3" r="7.5" fill="none" stroke="#115a9b" stroke-width="3.0"/>
<circle cx="1733.3" cy="251" r="7.5" fill="none" stroke="#115a9b" stroke-width="3.0"/>
<circle cx="1840.0" cy="128.5" r="7.5" fill="none" stroke="#115a9b" stroke-width="3.0"/>
<circle cx="1733.3" cy="249.7" r="7.5" fill="none" stroke="#115a9b" stroke-width="3.0"/>
<circle cx="1840.0" cy="223" r="7.5" fill="none" stroke="#115a9b" stroke-width="3.0"/>
<circle cx="1733.3" cy="253" r="7.5" fill="none" stroke="#115a9b" stroke-width="3.0"/>
<circle cx="1840.0" cy="226" r="7.5" fill="none" stroke="#115a9b" stroke-width="3.0"/>
<circle cx="1733.3" cy="246.3" r="7.5" fill="none" stroke="#115a9b" stroke-width="3.0"/>
<circle cx="1840.0" cy="249.7" r="7.5" fill="none" stroke="#115a9b" stroke-width="3.0"/>
<circle cx="1733.3" cy="243" r="7.5" fill="none" stroke="#115a9b" stroke-width="3.0"/>
<circle cx="1840.0" cy="310.4" r="7.5" fill="none" stroke="#115a9b" stroke-width="3.0"/>
<circle cx="1733.3" cy="258" r="7.5" fill="none" stroke="#115a9b" stroke-width="3.0"/>
<circle cx="1840.0" cy="254.7" r="7.5" fill="none" stroke="#115a9b" stroke-width="3.0"/>
<circle cx="1733.3" cy="286.3" r="7.5" fill="none" stroke="#115a9b" stroke-width="3.0"/>
<circle cx="1840.0" cy="204" r="7.5" fill="none" stroke="#115a9b" stroke-width="3.0"/>
<circle cx="1733.3" cy="320.4" r="7.5" fill="none" stroke="#115a9b" stroke-width="3.0"/>
<circle cx="1840.0" cy="327.8" r="7.5" fill="none" stroke="#115a9b" stroke-width="3.0"/>
<circle cx="1733.3" cy="349.5" r="7.5" fill="none" stroke="#115a9b" stroke-width="3.0"/>
<circle cx="1840.0" cy="268" r="7.5" fill="none" stroke="#115a9b" stroke-width="3.0"/>
<circle cx="1733.3" cy="363.6" r="7.5" fill="none" stroke="#115a9b" stroke-width="3.0"/>
<circle cx="1840.0" cy="273.8" r="7.5" fill="none" stroke="#115a9b" stroke-width="3.0"/>
<circle cx="1733.3" cy="240" r="7.5" fill="none" stroke="#115a9b" stroke-width="3.0"/>
<circle cx="1840.0" cy="124.5" r="7.5" fill="none" stroke="#115a9b" stroke-width="3.0"/>
<line x1="1946.70" y1="119.90" x2="2053.20" y2="117.10" stroke="#f28e2f" stroke-width="2.5"/>
<line x1="1946.70" y1="132.30" x2="2053.20" y2="148.40" stroke="#f28e2f" stroke-width="2.5"/>
<line x1="1946.70" y1="148.40" x2="2053.20" y2="137.00" stroke="#f28e2f" stroke-width="2.5"/>
<line x1="1946.70" y1="153.20" x2="2053.20" y2="185.50" stroke="#f28e2f" stroke-width="2.5"/>
<line x1="1946.70" y1="157.00" x2="2053.20" y2="210.20" stroke="#f28e2f" stroke-width="2.5"/>
<line x1="1946.70" y1="161.70" x2="2053.20" y2="132.30" stroke="#f28e2f" stroke-width="2.5"/>
<line x1="1946.70" y1="166.50" x2="2053.20" y2="174.00" stroke="#f28e2f" stroke-width="2.5"/>
<line x1="1946.70" y1="170.30" x2="2053.20" y2="229.20" stroke="#f28e2f" stroke-width="2.5"/>
<line x1="1946.70" y1="175.00" x2="2053.20" y2="141.80" stroke="#f28e2f" stroke-width="2.5"/>
<line x1="1946.70" y1="180.70" x2="2053.20" y2="162.70" stroke="#f28e2f" stroke-width="2.5"/>
<line x1="1946.70" y1="185.50" x2="2053.20" y2="195.00" stroke="#f28e2f" stroke-width="2.5"/>
<line x1="1946.70" y1="205.40" x2="2053.20" y2="168.40" stroke="#f28e2f" stroke-width="2.5"/>
<line x1="1946.70" y1="220.60" x2="2053.20" y2="179.80" stroke="#f28e2f" stroke-width="2.5"/>
<line x1="1946.70" y1="224.40" x2="2053.20" y2="242.50" stroke="#f28e2f" stroke-width="2.5"/>
<line x1="1946.70" y1="235.80" x2="2053.20" y2="204.50" stroke="#f28e2f" stroke-width="2.5"/>
<line x1="1946.70" y1="150.00" x2="2053.20" y2="158.00" stroke="#f28e2f" stroke-width="2.5"/>
<line x1="1946.70" y1="164.00" x2="2053.20" y2="190.00" stroke="#f28e2f" stroke-width="2.5"/>
<circle cx="1946.7" cy="119.9" r="7.5" fill="none" stroke="#f28e2f" stroke-width="3.0"/>
<circle cx="2053.2" cy="117.1" r="7.5" fill="none" stroke="#f28e2f" stroke-width="3.0"/>
<circle cx="1946.7" cy="132.3" r="7.5" fill="none" stroke="#f28e2f" stroke-width="3.0"/>
<circle cx="2053.2" cy="148.4" r="7.5" fill="none" stroke="#f28e2f" stroke-width="3.0"/>
<circle cx="1946.7" cy="148.4" r="7.5" fill="none" stroke="#f28e2f" stroke-width="3.0"/>
<circle cx="2053.2" cy="137" r="7.5" fill="none" stroke="#f28e2f" stroke-width="3.0"/>
<circle cx="1946.7" cy="153.2" r="7.5" fill="none" stroke="#f28e2f" stroke-width="3.0"/>
<circle cx="2053.2" cy="185.5" r="7.5" fill="none" stroke="#f28e2f" stroke-width="3.0"/>
<circle cx="1946.7" cy="157" r="7.5" fill="none" stroke="#f28e2f" stroke-width="3.0"/>
<circle cx="2053.2" cy="210.2" r="7.5" fill="none" stroke="#f28e2f" stroke-width="3.0"/>
<circle cx="1946.7" cy="161.7" r="7.5" fill="none" stroke="#f28e2f" stroke-width="3.0"/>
<circle cx="2053.2" cy="132.3" r="7.5" fill="none" stroke="#f28e2f" stroke-width="3.0"/>
<circle cx="1946.7" cy="166.5" r="7.5" fill="none" stroke="#f28e2f" stroke-width="3.0"/>
<circle cx="2053.2" cy="174" r="7.5" fill="none" stroke="#f28e2f" stroke-width="3.0"/>
<circle cx="1946.7" cy="170.3" r="7.5" fill="none" stroke="#f28e2f" stroke-width="3.0"/>
<circle cx="2053.2" cy="229.2" r="7.5" fill="none" stroke="#f28e2f" stroke-width="3.0"/>
<circle cx="1946.7" cy="175" r="7.5" fill="none" stroke="#f28e2f" stroke-width="3.0"/>
<circle cx="2053.2" cy="141.8" r="7.5" fill="none" stroke="#f28e2f" stroke-width="3.0"/>
<circle cx="1946.7" cy="180.7" r="7.5" fill="none" stroke="#f28e2f" stroke-width="3.0"/>
<circle cx="2053.2" cy="162.7" r="7.5" fill="none" stroke="#f28e2f" stroke-width="3.0"/>
<circle cx="1946.7" cy="185.5" r="7.5" fill="none" stroke="#f28e2f" stroke-width="3.0"/>
<circle cx="2053.2" cy="195" r="7.5" fill="none" stroke="#f28e2f" stroke-width="3.0"/>
<circle cx="1946.7" cy="205.4" r="7.5" fill="none" stroke="#f28e2f" stroke-width="3.0"/>
<circle cx="2053.2" cy="168.4" r="7.5" fill="none" stroke="#f28e2f" stroke-width="3.0"/>
<circle cx="1946.7" cy="220.6" r="7.5" fill="none" stroke="#f28e2f" stroke-width="3.0"/>
<circle cx="2053.2" cy="179.8" r="7.5" fill="none" stroke="#f28e2f" stroke-width="3.0"/>
<circle cx="1946.7" cy="224.4" r="7.5" fill="none" stroke="#f28e2f" stroke-width="3.0"/>
<circle cx="2053.2" cy="242.5" r="7.5" fill="none" stroke="#f28e2f" stroke-width="3.0"/>
<circle cx="1946.7" cy="235.8" r="7.5" fill="none" stroke="#f28e2f" stroke-width="3.0"/>
<circle cx="2053.2" cy="204.5" r="7.5" fill="none" stroke="#f28e2f" stroke-width="3.0"/>
<circle cx="1946.7" cy="150" r="7.5" fill="none" stroke="#f28e2f" stroke-width="3.0"/>
<circle cx="2053.2" cy="158" r="7.5" fill="none" stroke="#f28e2f" stroke-width="3.0"/>
<circle cx="1946.7" cy="164" r="7.5" fill="none" stroke="#f28e2f" stroke-width="3.0"/>
<circle cx="2053.2" cy="190" r="7.5" fill="none" stroke="#f28e2f" stroke-width="3.0"/>
<line x1="1520.40" y1="419.60" x2="1520.40" y2="434.70" stroke="#3a3a3a" stroke-width="1.2"/>
<text transform="translate(1532.40,457.40) rotate(-45)" font-size="27.2" text-anchor="middle"><tspan x="-49.12" y="0">Post-D2</tspan><tspan x="-49.12" y="32.8"><tspan font-style="italic">n</tspan> = 5</tspan></text>
<line x1="1626.90" y1="419.60" x2="1626.90" y2="434.70" stroke="#3a3a3a" stroke-width="1.2"/>
<text transform="translate(1638.90,457.40) rotate(-45)" font-size="27.2" text-anchor="middle"><tspan x="-49.12" y="0">Post-D3</tspan><tspan x="-49.12" y="32.8"><tspan font-style="italic">n</tspan> = 5</tspan></text>
<line x1="1733.30" y1="419.60" x2="1733.30" y2="434.70" stroke="#3a3a3a" stroke-width="1.2"/>
<text transform="translate(1745.30,457.40) rotate(-45)" font-size="27.2" text-anchor="middle"><tspan x="-49.12" y="0">Post-D2</tspan><tspan x="-49.12" y="32.8"><tspan font-style="italic">n</tspan> = 12</tspan></text>
<line x1="1840.00" y1="419.60" x2="1840.00" y2="434.70" stroke="#3a3a3a" stroke-width="1.2"/>
<text transform="translate(1852.00,457.40) rotate(-45)" font-size="27.2" text-anchor="middle"><tspan x="-49.12" y="0">Post-D3</tspan><tspan x="-49.12" y="32.8"><tspan font-style="italic">n</tspan> = 12</tspan></text>
<line x1="1946.70" y1="419.60" x2="1946.70" y2="434.70" stroke="#3a3a3a" stroke-width="1.2"/>
<text transform="translate(1958.70,457.40) rotate(-45)" font-size="27.2" text-anchor="middle"><tspan x="-49.12" y="0">Post-D2</tspan><tspan x="-49.12" y="32.8"><tspan font-style="italic">n</tspan> = 17</tspan></text>
<line x1="2053.20" y1="419.60" x2="2053.20" y2="434.70" stroke="#3a3a3a" stroke-width="1.2"/>
<text transform="translate(2065.20,457.40) rotate(-45)" font-size="27.2" text-anchor="middle"><tspan x="-49.12" y="0">Post-D3</tspan><tspan x="-49.12" y="32.8"><tspan font-style="italic">n</tspan> = 17</tspan></text>
<path d="M1729.1,79.0 L1729.1,63.8 L1837.7,63.8 L1837.7,79.0" fill="none" stroke="#231f20" stroke-width="4.4" stroke-linecap="round" stroke-linejoin="miter"/>
<path d="M1944.7,79.0 L1944.7,63.8 L2050.9,63.8 L2050.9,79.0" fill="none" stroke="#231f20" stroke-width="4.4" stroke-linecap="round" stroke-linejoin="miter"/>
<text x="1775.40" y="64.00" font-size="31" text-anchor="middle">*</text>
<text x="1789.80" y="64.00" font-size="31" text-anchor="middle">*</text>
<text x="2000.70" y="64.00" font-size="31" text-anchor="middle">*</text>
<rect x="1448.10" y="566.10" width="22.20" height="22.20" fill="#231f20" stroke="#231f20" stroke-width="4.8"/>
<text x="1482.40" y="587.00" font-size="27.2">Healthy donors</text>
<rect x="1710.60" y="566.10" width="22.20" height="22.20" fill="#115a9b" stroke="#231f20" stroke-width="4.8"/>
<text x="1745.90" y="587.00" font-size="27.2">Lymphoma</text>
<text x="1745.90" y="618.70" font-size="27.2">(initial NR)</text>
<rect x="1951.20" y="566.10" width="22.20" height="22.20" fill="#f28e2f" stroke="#231f20" stroke-width="4.8"/>
<text x="1985.80" y="587.00" font-size="27.2">Lymphoma</text>
<text x="1985.80" y="618.70" font-size="27.2">(initial R)</text>
<line x1="428.86" y1="1029.60" x2="428.86" y2="739.75" stroke="#ec3a30" stroke-width="3.8" stroke-dasharray="0 8.77" stroke-linecap="round"/>
<line x1="200.70" y1="915.20" x2="639.40" y2="915.20" stroke="#ec3a30" stroke-width="3.8" stroke-dasharray="0 8.77" stroke-linecap="round"/>
<line x1="200.40" y1="739.25" x2="200.40" y2="1032.50" stroke="#231f20" stroke-width="1.3"/>
<line x1="199.90" y1="1032.00" x2="639.90" y2="1032.00" stroke="#231f20" stroke-width="1.3"/>
<line x1="189.10" y1="1032.00" x2="200.40" y2="1032.00" stroke="#231f20" stroke-width="1.2"/>
<line x1="200.40" y1="1032.00" x2="200.40" y2="1043.30" stroke="#231f20" stroke-width="1.2"/>
<line x1="194.40" y1="1014.40" x2="200.40" y2="1014.40" stroke="#231f20" stroke-width="1.0"/>
<line x1="226.83" y1="1032.00" x2="226.83" y2="1038.00" stroke="#231f20" stroke-width="1.0"/>
<line x1="194.40" y1="1004.11" x2="200.40" y2="1004.11" stroke="#231f20" stroke-width="1.0"/>
<line x1="242.29" y1="1032.00" x2="242.29" y2="1038.00" stroke="#231f20" stroke-width="1.0"/>
<line x1="194.40" y1="996.81" x2="200.40" y2="996.81" stroke="#231f20" stroke-width="1.0"/>
<line x1="253.26" y1="1032.00" x2="253.26" y2="1038.00" stroke="#231f20" stroke-width="1.0"/>
<line x1="194.40" y1="991.15" x2="200.40" y2="991.15" stroke="#231f20" stroke-width="1.0"/>
<line x1="261.77" y1="1032.00" x2="261.77" y2="1038.00" stroke="#231f20" stroke-width="1.0"/>
<line x1="194.40" y1="986.52" x2="200.40" y2="986.52" stroke="#231f20" stroke-width="1.0"/>
<line x1="268.72" y1="1032.00" x2="268.72" y2="1038.00" stroke="#231f20" stroke-width="1.0"/>
<line x1="194.40" y1="982.60" x2="200.40" y2="982.60" stroke="#231f20" stroke-width="1.0"/>
<line x1="274.60" y1="1032.00" x2="274.60" y2="1038.00" stroke="#231f20" stroke-width="1.0"/>
<line x1="194.40" y1="979.21" x2="200.40" y2="979.21" stroke="#231f20" stroke-width="1.0"/>
<line x1="279.69" y1="1032.00" x2="279.69" y2="1038.00" stroke="#231f20" stroke-width="1.0"/>
<line x1="194.40" y1="976.22" x2="200.40" y2="976.22" stroke="#231f20" stroke-width="1.0"/>
<line x1="284.18" y1="1032.00" x2="284.18" y2="1038.00" stroke="#231f20" stroke-width="1.0"/>
<line x1="189.10" y1="973.55" x2="200.40" y2="973.55" stroke="#231f20" stroke-width="1.2"/>
<line x1="288.20" y1="1032.00" x2="288.20" y2="1043.30" stroke="#231f20" stroke-width="1.2"/>
<line x1="194.40" y1="955.95" x2="200.40" y2="955.95" stroke="#231f20" stroke-width="1.0"/>
<line x1="314.63" y1="1032.00" x2="314.63" y2="1038.00" stroke="#231f20" stroke-width="1.0"/>
<line x1="194.40" y1="945.66" x2="200.40" y2="945.66" stroke="#231f20" stroke-width="1.0"/>
<line x1="330.09" y1="1032.00" x2="330.09" y2="1038.00" stroke="#231f20" stroke-width="1.0"/>
<line x1="194.40" y1="938.36" x2="200.40" y2="938.36" stroke="#231f20" stroke-width="1.0"/>
<line x1="341.06" y1="1032.00" x2="341.06" y2="1038.00" stroke="#231f20" stroke-width="1.0"/>
<line x1="194.40" y1="932.70" x2="200.40" y2="932.70" stroke="#231f20" stroke-width="1.0"/>
<line x1="349.57" y1="1032.00" x2="349.57" y2="1038.00" stroke="#231f20" stroke-width="1.0"/>
<line x1="194.40" y1="928.07" x2="200.40" y2="928.07" stroke="#231f20" stroke-width="1.0"/>
<line x1="356.52" y1="1032.00" x2="356.52" y2="1038.00" stroke="#231f20" stroke-width="1.0"/>
<line x1="194.40" y1="924.15" x2="200.40" y2="924.15" stroke="#231f20" stroke-width="1.0"/>
<line x1="362.40" y1="1032.00" x2="362.40" y2="1038.00" stroke="#231f20" stroke-width="1.0"/>
<line x1="194.40" y1="920.76" x2="200.40" y2="920.76" stroke="#231f20" stroke-width="1.0"/>
<line x1="367.49" y1="1032.00" x2="367.49" y2="1038.00" stroke="#231f20" stroke-width="1.0"/>
<line x1="194.40" y1="917.77" x2="200.40" y2="917.77" stroke="#231f20" stroke-width="1.0"/>
<line x1="371.98" y1="1032.00" x2="371.98" y2="1038.00" stroke="#231f20" stroke-width="1.0"/>
<line x1="189.10" y1="915.10" x2="200.40" y2="915.10" stroke="#231f20" stroke-width="1.2"/>
<line x1="376.00" y1="1032.00" x2="376.00" y2="1043.30" stroke="#231f20" stroke-width="1.2"/>
<line x1="194.40" y1="897.50" x2="200.40" y2="897.50" stroke="#231f20" stroke-width="1.0"/>
<line x1="402.43" y1="1032.00" x2="402.43" y2="1038.00" stroke="#231f20" stroke-width="1.0"/>
<line x1="194.40" y1="887.21" x2="200.40" y2="887.21" stroke="#231f20" stroke-width="1.0"/>
<line x1="417.89" y1="1032.00" x2="417.89" y2="1038.00" stroke="#231f20" stroke-width="1.0"/>
<line x1="194.40" y1="879.91" x2="200.40" y2="879.91" stroke="#231f20" stroke-width="1.0"/>
<line x1="428.86" y1="1032.00" x2="428.86" y2="1038.00" stroke="#231f20" stroke-width="1.0"/>
<line x1="194.40" y1="874.25" x2="200.40" y2="874.25" stroke="#231f20" stroke-width="1.0"/>
<line x1="437.37" y1="1032.00" x2="437.37" y2="1038.00" stroke="#231f20" stroke-width="1.0"/>
<line x1="194.40" y1="869.62" x2="200.40" y2="869.62" stroke="#231f20" stroke-width="1.0"/>
<line x1="444.32" y1="1032.00" x2="444.32" y2="1038.00" stroke="#231f20" stroke-width="1.0"/>
<line x1="194.40" y1="865.70" x2="200.40" y2="865.70" stroke="#231f20" stroke-width="1.0"/>
<line x1="450.20" y1="1032.00" x2="450.20" y2="1038.00" stroke="#231f20" stroke-width="1.0"/>
<line x1="194.40" y1="862.31" x2="200.40" y2="862.31" stroke="#231f20" stroke-width="1.0"/>
<line x1="455.29" y1="1032.00" x2="455.29" y2="1038.00" stroke="#231f20" stroke-width="1.0"/>
<line x1="194.40" y1="859.32" x2="200.40" y2="859.32" stroke="#231f20" stroke-width="1.0"/>
<line x1="459.78" y1="1032.00" x2="459.78" y2="1038.00" stroke="#231f20" stroke-width="1.0"/>
<line x1="189.10" y1="856.65" x2="200.40" y2="856.65" stroke="#231f20" stroke-width="1.2"/>
<line x1="463.80" y1="1032.00" x2="463.80" y2="1043.30" stroke="#231f20" stroke-width="1.2"/>
<line x1="194.40" y1="839.05" x2="200.40" y2="839.05" stroke="#231f20" stroke-width="1.0"/>
<line x1="490.23" y1="1032.00" x2="490.23" y2="1038.00" stroke="#231f20" stroke-width="1.0"/>
<line x1="194.40" y1="828.76" x2="200.40" y2="828.76" stroke="#231f20" stroke-width="1.0"/>
<line x1="505.69" y1="1032.00" x2="505.69" y2="1038.00" stroke="#231f20" stroke-width="1.0"/>
<line x1="194.40" y1="821.46" x2="200.40" y2="821.46" stroke="#231f20" stroke-width="1.0"/>
<line x1="516.66" y1="1032.00" x2="516.66" y2="1038.00" stroke="#231f20" stroke-width="1.0"/>
<line x1="194.40" y1="815.80" x2="200.40" y2="815.80" stroke="#231f20" stroke-width="1.0"/>
<line x1="525.17" y1="1032.00" x2="525.17" y2="1038.00" stroke="#231f20" stroke-width="1.0"/>
<line x1="194.40" y1="811.17" x2="200.40" y2="811.17" stroke="#231f20" stroke-width="1.0"/>
<line x1="532.12" y1="1032.00" x2="532.12" y2="1038.00" stroke="#231f20" stroke-width="1.0"/>
<line x1="194.40" y1="807.25" x2="200.40" y2="807.25" stroke="#231f20" stroke-width="1.0"/>
<line x1="538.00" y1="1032.00" x2="538.00" y2="1038.00" stroke="#231f20" stroke-width="1.0"/>
<line x1="194.40" y1="803.86" x2="200.40" y2="803.86" stroke="#231f20" stroke-width="1.0"/>
<line x1="543.09" y1="1032.00" x2="543.09" y2="1038.00" stroke="#231f20" stroke-width="1.0"/>
<line x1="194.40" y1="800.87" x2="200.40" y2="800.87" stroke="#231f20" stroke-width="1.0"/>
<line x1="547.58" y1="1032.00" x2="547.58" y2="1038.00" stroke="#231f20" stroke-width="1.0"/>
<line x1="189.10" y1="798.20" x2="200.40" y2="798.20" stroke="#231f20" stroke-width="1.2"/>
<line x1="551.60" y1="1032.00" x2="551.60" y2="1043.30" stroke="#231f20" stroke-width="1.2"/>
<line x1="194.40" y1="780.60" x2="200.40" y2="780.60" stroke="#231f20" stroke-width="1.0"/>
<line x1="578.03" y1="1032.00" x2="578.03" y2="1038.00" stroke="#231f20" stroke-width="1.0"/>
<line x1="194.40" y1="770.31" x2="200.40" y2="770.31" stroke="#231f20" stroke-width="1.0"/>
<line x1="593.49" y1="1032.00" x2="593.49" y2="1038.00" stroke="#231f20" stroke-width="1.0"/>
<line x1="194.40" y1="763.01" x2="200.40" y2="763.01" stroke="#231f20" stroke-width="1.0"/>
<line x1="604.46" y1="1032.00" x2="604.46" y2="1038.00" stroke="#231f20" stroke-width="1.0"/>
<line x1="194.40" y1="757.35" x2="200.40" y2="757.35" stroke="#231f20" stroke-width="1.0"/>
<line x1="612.97" y1="1032.00" x2="612.97" y2="1038.00" stroke="#231f20" stroke-width="1.0"/>
<line x1="194.40" y1="752.72" x2="200.40" y2="752.72" stroke="#231f20" stroke-width="1.0"/>
<line x1="619.92" y1="1032.00" x2="619.92" y2="1038.00" stroke="#231f20" stroke-width="1.0"/>
<line x1="194.40" y1="748.80" x2="200.40" y2="748.80" stroke="#231f20" stroke-width="1.0"/>
<line x1="625.80" y1="1032.00" x2="625.80" y2="1038.00" stroke="#231f20" stroke-width="1.0"/>
<line x1="194.40" y1="745.41" x2="200.40" y2="745.41" stroke="#231f20" stroke-width="1.0"/>
<line x1="630.89" y1="1032.00" x2="630.89" y2="1038.00" stroke="#231f20" stroke-width="1.0"/>
<line x1="194.40" y1="742.42" x2="200.40" y2="742.42" stroke="#231f20" stroke-width="1.0"/>
<line x1="635.38" y1="1032.00" x2="635.38" y2="1038.00" stroke="#231f20" stroke-width="1.0"/>
<line x1="189.10" y1="739.75" x2="200.40" y2="739.75" stroke="#231f20" stroke-width="1.2"/>
<line x1="639.40" y1="1032.00" x2="639.40" y2="1043.30" stroke="#231f20" stroke-width="1.2"/>
<text x="177.40" y="1040.80" font-size="27.2" text-anchor="end">1</text>
<text transform="translate(212.90,1065.00) rotate(-45)" font-size="27.2" text-anchor="end">1</text>
<text x="177.40" y="982.35" font-size="27.2" text-anchor="end">10</text>
<text transform="translate(300.70,1065.00) rotate(-45)" font-size="27.2" text-anchor="end">10</text>
<text x="177.40" y="923.90" font-size="27.2" text-anchor="end">100</text>
<text transform="translate(388.50,1065.00) rotate(-45)" font-size="27.2" text-anchor="end">100</text>
<text x="177.40" y="865.45" font-size="27.2" text-anchor="end">1,000</text>
<text transform="translate(476.30,1065.00) rotate(-45)" font-size="27.2" text-anchor="end">1,000</text>
<text x="177.40" y="807.00" font-size="27.2" text-anchor="end">10,000</text>
<text transform="translate(564.10,1065.00) rotate(-45)" font-size="27.2" text-anchor="end">10,000</text>
<text x="177.40" y="748.55" font-size="27.2" text-anchor="end">100,000</text>
<text transform="translate(651.90,1065.00) rotate(-45)" font-size="27.2" text-anchor="end">100,000</text>
<text transform="translate(31.70,885.88) rotate(-90)" font-size="27.2" text-anchor="middle">Anti-S omicron IgG</text>
<text transform="translate(64.50,885.88) rotate(-90)" font-size="27.2" text-anchor="middle">(BAU ml<tspan dy="-12.5" font-size="17">−1</tspan><tspan dy="12.5">)</tspan></text>
<text x="419.90" y="1169.50" font-size="27.2" text-anchor="middle">Anti-S WT IgG (BAU ml<tspan dy="-12.5" font-size="17">−1</tspan><tspan dy="12.5">)</tspan></text>
<text x="213.00" y="900.70" font-size="27.2" fill="#ec3a30">101</text>
<text x="440.50" y="1017.60" font-size="27.2" fill="#ec3a30">400</text>
<text x="524.00" y="955.00" font-size="27.2" word-spacing="-2"><tspan font-style="italic">n</tspan> = 101</text>
<text x="524.00" y="983.60" font-size="27.2"><tspan font-style="italic">r</tspan> = 0.99</text>
<text x="524.00" y="1012.80" font-size="27.2" word-spacing="-2"><tspan font-style="italic">P</tspan> &lt; 0.0001</text>
<circle cx="286.7" cy="1014.1" r="4.3" fill="none" stroke="#231f20" stroke-width="2.7"/>
<circle cx="302.9" cy="984" r="4.3" fill="none" stroke="#231f20" stroke-width="2.7"/>
<circle cx="305.7" cy="988.2" r="4.3" fill="none" stroke="#231f20" stroke-width="2.7"/>
<circle cx="302.5" cy="996.2" r="4.3" fill="none" stroke="#231f20" stroke-width="2.7"/>
<circle cx="306.7" cy="1001.8" r="4.3" fill="none" stroke="#231f20" stroke-width="2.7"/>
<circle cx="311.4" cy="999" r="4.3" fill="none" stroke="#231f20" stroke-width="2.7"/>
<circle cx="317" cy="987.7" r="4.3" fill="none" stroke="#231f20" stroke-width="2.7"/>
<circle cx="322.2" cy="995.2" r="4.3" fill="none" stroke="#231f20" stroke-width="2.7"/>
<circle cx="328.3" cy="987.7" r="4.3" fill="none" stroke="#231f20" stroke-width="2.7"/>
<circle cx="330.7" cy="990" r="4.3" fill="none" stroke="#231f20" stroke-width="2.7"/>
<circle cx="328.3" cy="975" r="4.3" fill="none" stroke="#231f20" stroke-width="2.7"/>
<circle cx="339.6" cy="982.1" r="4.3" fill="none" stroke="#231f20" stroke-width="2.7"/>
<circle cx="337.7" cy="978.8" r="4.3" fill="none" stroke="#231f20" stroke-width="2.7"/>
<circle cx="342.4" cy="964.7" r="4.3" fill="none" stroke="#231f20" stroke-width="2.7"/>
<circle cx="343.4" cy="970.3" r="4.3" fill="none" stroke="#231f20" stroke-width="2.7"/>
<circle cx="350" cy="968.9" r="4.3" fill="none" stroke="#231f20" stroke-width="2.7"/>
<circle cx="355.6" cy="963.7" r="4.3" fill="none" stroke="#231f20" stroke-width="2.7"/>
<circle cx="361.7" cy="968" r="4.3" fill="none" stroke="#231f20" stroke-width="2.7"/>
<circle cx="357.5" cy="950.1" r="4.3" fill="none" stroke="#231f20" stroke-width="2.7"/>
<circle cx="365" cy="944.9" r="4.3" fill="none" stroke="#231f20" stroke-width="2.7"/>
<circle cx="363.6" cy="959" r="4.3" fill="none" stroke="#231f20" stroke-width="2.7"/>
<circle cx="370.2" cy="952.9" r="4.3" fill="none" stroke="#231f20" stroke-width="2.7"/>
<circle cx="376.3" cy="946.3" r="4.3" fill="none" stroke="#231f20" stroke-width="2.7"/>
<circle cx="380.5" cy="954.8" r="4.3" fill="none" stroke="#231f20" stroke-width="2.7"/>
<circle cx="382.9" cy="964.2" r="4.3" fill="none" stroke="#231f20" stroke-width="2.7"/>
<circle cx="368.3" cy="978.8" r="4.3" fill="none" stroke="#231f20" stroke-width="2.7"/>
<circle cx="370.7" cy="984.9" r="4.3" fill="none" stroke="#231f20" stroke-width="2.7"/>
<circle cx="365.5" cy="989.1" r="4.3" fill="none" stroke="#231f20" stroke-width="2.7"/>
<circle cx="386.7" cy="945.9" r="4.3" fill="none" stroke="#231f20" stroke-width="2.7"/>
<circle cx="385.2" cy="932.7" r="4.3" fill="none" stroke="#231f20" stroke-width="2.7"/>
<circle cx="395.1" cy="933.2" r="4.3" fill="none" stroke="#231f20" stroke-width="2.7"/>
<circle cx="397" cy="944" r="4.3" fill="none" stroke="#231f20" stroke-width="2.7"/>
<circle cx="405" cy="937.9" r="4.3" fill="none" stroke="#231f20" stroke-width="2.7"/>
<circle cx="404.5" cy="927.5" r="4.3" fill="none" stroke="#231f20" stroke-width="2.7"/>
<circle cx="397.5" cy="960.4" r="4.3" fill="none" stroke="#231f20" stroke-width="2.7"/>
<circle cx="410.2" cy="919.5" r="4.3" fill="none" stroke="#231f20" stroke-width="2.7"/>
<circle cx="412" cy="917.6" r="4.3" fill="none" stroke="#231f20" stroke-width="2.7"/>
<circle cx="420.5" cy="912.9" r="4.3" fill="none" stroke="#231f20" stroke-width="2.7"/>
<circle cx="428" cy="912" r="4.3" fill="none" stroke="#231f20" stroke-width="2.7"/>
<circle cx="433.7" cy="912.9" r="4.3" fill="none" stroke="#231f20" stroke-width="2.7"/>
<circle cx="436.5" cy="901.2" r="4.3" fill="none" stroke="#231f20" stroke-width="2.7"/>
<circle cx="445.9" cy="895.5" r="4.3" fill="none" stroke="#231f20" stroke-width="2.7"/>
<circle cx="451.6" cy="902.6" r="4.3" fill="none" stroke="#231f20" stroke-width="2.7"/>
<circle cx="451.6" cy="888.9" r="4.3" fill="none" stroke="#231f20" stroke-width="2.7"/>
<circle cx="442.2" cy="882.8" r="4.3" fill="none" stroke="#231f20" stroke-width="2.7"/>
<circle cx="460" cy="943.5" r="4.3" fill="none" stroke="#231f20" stroke-width="2.7"/>
<circle cx="465.2" cy="892.7" r="4.3" fill="none" stroke="#231f20" stroke-width="2.7"/>
<circle cx="442.6" cy="882.5" r="4.3" fill="none" stroke="#231f20" stroke-width="2.7"/>
<circle cx="451" cy="888.2" r="4.3" fill="none" stroke="#231f20" stroke-width="2.7"/>
<circle cx="458.6" cy="880.7" r="4.3" fill="none" stroke="#231f20" stroke-width="2.7"/>
<circle cx="461.4" cy="885.4" r="4.3" fill="none" stroke="#231f20" stroke-width="2.7"/>
<circle cx="465.2" cy="892.9" r="4.3" fill="none" stroke="#231f20" stroke-width="2.7"/>
<circle cx="470.8" cy="884.4" r="4.3" fill="none" stroke="#231f20" stroke-width="2.7"/>
<circle cx="474.6" cy="873.1" r="4.3" fill="none" stroke="#231f20" stroke-width="2.7"/>
<circle cx="478.3" cy="879.7" r="4.3" fill="none" stroke="#231f20" stroke-width="2.7"/>
<circle cx="479.3" cy="894.8" r="4.3" fill="none" stroke="#231f20" stroke-width="2.7"/>
<circle cx="480.2" cy="864.7" r="4.3" fill="none" stroke="#231f20" stroke-width="2.7"/>
<circle cx="485.9" cy="867.5" r="4.3" fill="none" stroke="#231f20" stroke-width="2.7"/>
<circle cx="486.3" cy="855.3" r="4.3" fill="none" stroke="#231f20" stroke-width="2.7"/>
<circle cx="493.4" cy="871.3" r="4.3" fill="none" stroke="#231f20" stroke-width="2.7"/>
<circle cx="495.3" cy="855.3" r="4.3" fill="none" stroke="#231f20" stroke-width="2.7"/>
<circle cx="491.5" cy="864.7" r="4.3" fill="none" stroke="#231f20" stroke-width="2.7"/>
<circle cx="501.8" cy="867.5" r="4.3" fill="none" stroke="#231f20" stroke-width="2.7"/>
<circle cx="504.7" cy="860.9" r="4.3" fill="none" stroke="#231f20" stroke-width="2.7"/>
<circle cx="508.4" cy="855.3" r="4.3" fill="none" stroke="#231f20" stroke-width="2.7"/>
<circle cx="508.4" cy="841.1" r="4.3" fill="none" stroke="#231f20" stroke-width="2.7"/>
<circle cx="514.1" cy="845.9" r="4.3" fill="none" stroke="#231f20" stroke-width="2.7"/>
<circle cx="519.7" cy="849.6" r="4.3" fill="none" stroke="#231f20" stroke-width="2.7"/>
<circle cx="526.3" cy="838.8" r="4.3" fill="none" stroke="#231f20" stroke-width="2.7"/>
<circle cx="535.7" cy="830.8" r="4.3" fill="none" stroke="#231f20" stroke-width="2.7"/>
<circle cx="534.8" cy="837.4" r="4.3" fill="none" stroke="#231f20" stroke-width="2.7"/>
<circle cx="538.5" cy="836.4" r="4.3" fill="none" stroke="#231f20" stroke-width="2.7"/>
<circle cx="544.2" cy="826.1" r="4.3" fill="none" stroke="#231f20" stroke-width="2.7"/>
<circle cx="556.9" cy="825.2" r="4.3" fill="none" stroke="#231f20" stroke-width="2.7"/>
<circle cx="560.2" cy="810.1" r="4.3" fill="none" stroke="#231f20" stroke-width="2.7"/>
<circle cx="562.1" cy="813.9" r="4.3" fill="none" stroke="#231f20" stroke-width="2.7"/>
<circle cx="563" cy="817.6" r="4.3" fill="none" stroke="#231f20" stroke-width="2.7"/>
<circle cx="304" cy="992" r="4.3" fill="none" stroke="#231f20" stroke-width="2.7"/>
<circle cx="309" cy="1000" r="4.3" fill="none" stroke="#231f20" stroke-width="2.7"/>
<circle cx="341" cy="967" r="4.3" fill="none" stroke="#231f20" stroke-width="2.7"/>
<circle cx="367" cy="985" r="4.3" fill="none" stroke="#231f20" stroke-width="2.7"/>
<circle cx="488" cy="868" r="4.3" fill="none" stroke="#231f20" stroke-width="2.7"/>
<circle cx="497" cy="866" r="4.3" fill="none" stroke="#231f20" stroke-width="2.7"/>
<circle cx="500" cy="862" r="4.3" fill="none" stroke="#231f20" stroke-width="2.7"/>
<circle cx="483" cy="870" r="4.3" fill="none" stroke="#231f20" stroke-width="2.7"/>
<circle cx="506" cy="858" r="4.3" fill="none" stroke="#231f20" stroke-width="2.7"/>
<circle cx="537" cy="833" r="4.3" fill="none" stroke="#231f20" stroke-width="2.7"/>
<circle cx="561" cy="815" r="4.3" fill="none" stroke="#231f20" stroke-width="2.7"/>
<circle cx="414" cy="916" r="4.3" fill="none" stroke="#231f20" stroke-width="2.7"/>
<circle cx="424" cy="913" r="4.3" fill="none" stroke="#231f20" stroke-width="2.7"/>
<circle cx="300" cy="1000" r="4.3" fill="none" stroke="#231f20" stroke-width="2.7"/>
<line x1="1165.46" y1="1029.60" x2="1165.46" y2="739.75" stroke="#ec3a30" stroke-width="3.8" stroke-dasharray="0 8.77" stroke-linecap="round"/>
<line x1="937.30" y1="912.90" x2="1376.00" y2="912.90" stroke="#ec3a30" stroke-width="3.8" stroke-dasharray="0 8.77" stroke-linecap="round"/>
<line x1="937.00" y1="739.25" x2="937.00" y2="1032.50" stroke="#231f20" stroke-width="1.3"/>
<line x1="936.50" y1="1032.00" x2="1376.50" y2="1032.00" stroke="#231f20" stroke-width="1.3"/>
<line x1="925.70" y1="1032.00" x2="937.00" y2="1032.00" stroke="#231f20" stroke-width="1.2"/>
<line x1="937.00" y1="1032.00" x2="937.00" y2="1043.30" stroke="#231f20" stroke-width="1.2"/>
<line x1="931.00" y1="1014.40" x2="937.00" y2="1014.40" stroke="#231f20" stroke-width="1.0"/>
<line x1="963.43" y1="1032.00" x2="963.43" y2="1038.00" stroke="#231f20" stroke-width="1.0"/>
<line x1="931.00" y1="1004.11" x2="937.00" y2="1004.11" stroke="#231f20" stroke-width="1.0"/>
<line x1="978.89" y1="1032.00" x2="978.89" y2="1038.00" stroke="#231f20" stroke-width="1.0"/>
<line x1="931.00" y1="996.81" x2="937.00" y2="996.81" stroke="#231f20" stroke-width="1.0"/>
<line x1="989.86" y1="1032.00" x2="989.86" y2="1038.00" stroke="#231f20" stroke-width="1.0"/>
<line x1="931.00" y1="991.15" x2="937.00" y2="991.15" stroke="#231f20" stroke-width="1.0"/>
<line x1="998.37" y1="1032.00" x2="998.37" y2="1038.00" stroke="#231f20" stroke-width="1.0"/>
<line x1="931.00" y1="986.52" x2="937.00" y2="986.52" stroke="#231f20" stroke-width="1.0"/>
<line x1="1005.32" y1="1032.00" x2="1005.32" y2="1038.00" stroke="#231f20" stroke-width="1.0"/>
<line x1="931.00" y1="982.60" x2="937.00" y2="982.60" stroke="#231f20" stroke-width="1.0"/>
<line x1="1011.20" y1="1032.00" x2="1011.20" y2="1038.00" stroke="#231f20" stroke-width="1.0"/>
<line x1="931.00" y1="979.21" x2="937.00" y2="979.21" stroke="#231f20" stroke-width="1.0"/>
<line x1="1016.29" y1="1032.00" x2="1016.29" y2="1038.00" stroke="#231f20" stroke-width="1.0"/>
<line x1="931.00" y1="976.22" x2="937.00" y2="976.22" stroke="#231f20" stroke-width="1.0"/>
<line x1="1020.78" y1="1032.00" x2="1020.78" y2="1038.00" stroke="#231f20" stroke-width="1.0"/>
<line x1="925.70" y1="973.55" x2="937.00" y2="973.55" stroke="#231f20" stroke-width="1.2"/>
<line x1="1024.80" y1="1032.00" x2="1024.80" y2="1043.30" stroke="#231f20" stroke-width="1.2"/>
<line x1="931.00" y1="955.95" x2="937.00" y2="955.95" stroke="#231f20" stroke-width="1.0"/>
<line x1="1051.23" y1="1032.00" x2="1051.23" y2="1038.00" stroke="#231f20" stroke-width="1.0"/>
<line x1="931.00" y1="945.66" x2="937.00" y2="945.66" stroke="#231f20" stroke-width="1.0"/>
<line x1="1066.69" y1="1032.00" x2="1066.69" y2="1038.00" stroke="#231f20" stroke-width="1.0"/>
<line x1="931.00" y1="938.36" x2="937.00" y2="938.36" stroke="#231f20" stroke-width="1.0"/>
<line x1="1077.66" y1="1032.00" x2="1077.66" y2="1038.00" stroke="#231f20" stroke-width="1.0"/>
<line x1="931.00" y1="932.70" x2="937.00" y2="932.70" stroke="#231f20" stroke-width="1.0"/>
<line x1="1086.17" y1="1032.00" x2="1086.17" y2="1038.00" stroke="#231f20" stroke-width="1.0"/>
<line x1="931.00" y1="928.07" x2="937.00" y2="928.07" stroke="#231f20" stroke-width="1.0"/>
<line x1="1093.12" y1="1032.00" x2="1093.12" y2="1038.00" stroke="#231f20" stroke-width="1.0"/>
<line x1="931.00" y1="924.15" x2="937.00" y2="924.15" stroke="#231f20" stroke-width="1.0"/>
<line x1="1099.00" y1="1032.00" x2="1099.00" y2="1038.00" stroke="#231f20" stroke-width="1.0"/>
<line x1="931.00" y1="920.76" x2="937.00" y2="920.76" stroke="#231f20" stroke-width="1.0"/>
<line x1="1104.09" y1="1032.00" x2="1104.09" y2="1038.00" stroke="#231f20" stroke-width="1.0"/>
<line x1="931.00" y1="917.77" x2="937.00" y2="917.77" stroke="#231f20" stroke-width="1.0"/>
<line x1="1108.58" y1="1032.00" x2="1108.58" y2="1038.00" stroke="#231f20" stroke-width="1.0"/>
<line x1="925.70" y1="915.10" x2="937.00" y2="915.10" stroke="#231f20" stroke-width="1.2"/>
<line x1="1112.60" y1="1032.00" x2="1112.60" y2="1043.30" stroke="#231f20" stroke-width="1.2"/>
<line x1="931.00" y1="897.50" x2="937.00" y2="897.50" stroke="#231f20" stroke-width="1.0"/>
<line x1="1139.03" y1="1032.00" x2="1139.03" y2="1038.00" stroke="#231f20" stroke-width="1.0"/>
<line x1="931.00" y1="887.21" x2="937.00" y2="887.21" stroke="#231f20" stroke-width="1.0"/>
<line x1="1154.49" y1="1032.00" x2="1154.49" y2="1038.00" stroke="#231f20" stroke-width="1.0"/>
<line x1="931.00" y1="879.91" x2="937.00" y2="879.91" stroke="#231f20" stroke-width="1.0"/>
<line x1="1165.46" y1="1032.00" x2="1165.46" y2="1038.00" stroke="#231f20" stroke-width="1.0"/>
<line x1="931.00" y1="874.25" x2="937.00" y2="874.25" stroke="#231f20" stroke-width="1.0"/>
<line x1="1173.97" y1="1032.00" x2="1173.97" y2="1038.00" stroke="#231f20" stroke-width="1.0"/>
<line x1="931.00" y1="869.62" x2="937.00" y2="869.62" stroke="#231f20" stroke-width="1.0"/>
<line x1="1180.92" y1="1032.00" x2="1180.92" y2="1038.00" stroke="#231f20" stroke-width="1.0"/>
<line x1="931.00" y1="865.70" x2="937.00" y2="865.70" stroke="#231f20" stroke-width="1.0"/>
<line x1="1186.80" y1="1032.00" x2="1186.80" y2="1038.00" stroke="#231f20" stroke-width="1.0"/>
<line x1="931.00" y1="862.31" x2="937.00" y2="862.31" stroke="#231f20" stroke-width="1.0"/>
<line x1="1191.89" y1="1032.00" x2="1191.89" y2="1038.00" stroke="#231f20" stroke-width="1.0"/>
<line x1="931.00" y1="859.32" x2="937.00" y2="859.32" stroke="#231f20" stroke-width="1.0"/>
<line x1="1196.38" y1="1032.00" x2="1196.38" y2="1038.00" stroke="#231f20" stroke-width="1.0"/>
<line x1="925.70" y1="856.65" x2="937.00" y2="856.65" stroke="#231f20" stroke-width="1.2"/>
<line x1="1200.40" y1="1032.00" x2="1200.40" y2="1043.30" stroke="#231f20" stroke-width="1.2"/>
<line x1="931.00" y1="839.05" x2="937.00" y2="839.05" stroke="#231f20" stroke-width="1.0"/>
<line x1="1226.83" y1="1032.00" x2="1226.83" y2="1038.00" stroke="#231f20" stroke-width="1.0"/>
<line x1="931.00" y1="828.76" x2="937.00" y2="828.76" stroke="#231f20" stroke-width="1.0"/>
<line x1="1242.29" y1="1032.00" x2="1242.29" y2="1038.00" stroke="#231f20" stroke-width="1.0"/>
<line x1="931.00" y1="821.46" x2="937.00" y2="821.46" stroke="#231f20" stroke-width="1.0"/>
<line x1="1253.26" y1="1032.00" x2="1253.26" y2="1038.00" stroke="#231f20" stroke-width="1.0"/>
<line x1="931.00" y1="815.80" x2="937.00" y2="815.80" stroke="#231f20" stroke-width="1.0"/>
<line x1="1261.77" y1="1032.00" x2="1261.77" y2="1038.00" stroke="#231f20" stroke-width="1.0"/>
<line x1="931.00" y1="811.17" x2="937.00" y2="811.17" stroke="#231f20" stroke-width="1.0"/>
<line x1="1268.72" y1="1032.00" x2="1268.72" y2="1038.00" stroke="#231f20" stroke-width="1.0"/>
<line x1="931.00" y1="807.25" x2="937.00" y2="807.25" stroke="#231f20" stroke-width="1.0"/>
<line x1="1274.60" y1="1032.00" x2="1274.60" y2="1038.00" stroke="#231f20" stroke-width="1.0"/>
<line x1="931.00" y1="803.86" x2="937.00" y2="803.86" stroke="#231f20" stroke-width="1.0"/>
<line x1="1279.69" y1="1032.00" x2="1279.69" y2="1038.00" stroke="#231f20" stroke-width="1.0"/>
<line x1="931.00" y1="800.87" x2="937.00" y2="800.87" stroke="#231f20" stroke-width="1.0"/>
<line x1="1284.18" y1="1032.00" x2="1284.18" y2="1038.00" stroke="#231f20" stroke-width="1.0"/>
<line x1="925.70" y1="798.20" x2="937.00" y2="798.20" stroke="#231f20" stroke-width="1.2"/>
<line x1="1288.20" y1="1032.00" x2="1288.20" y2="1043.30" stroke="#231f20" stroke-width="1.2"/>
<line x1="931.00" y1="780.60" x2="937.00" y2="780.60" stroke="#231f20" stroke-width="1.0"/>
<line x1="1314.63" y1="1032.00" x2="1314.63" y2="1038.00" stroke="#231f20" stroke-width="1.0"/>
<line x1="931.00" y1="770.31" x2="937.00" y2="770.31" stroke="#231f20" stroke-width="1.0"/>
<line x1="1330.09" y1="1032.00" x2="1330.09" y2="1038.00" stroke="#231f20" stroke-width="1.0"/>
<line x1="931.00" y1="763.01" x2="937.00" y2="763.01" stroke="#231f20" stroke-width="1.0"/>
<line x1="1341.06" y1="1032.00" x2="1341.06" y2="1038.00" stroke="#231f20" stroke-width="1.0"/>
<line x1="931.00" y1="757.35" x2="937.00" y2="757.35" stroke="#231f20" stroke-width="1.0"/>
<line x1="1349.57" y1="1032.00" x2="1349.57" y2="1038.00" stroke="#231f20" stroke-width="1.0"/>
<line x1="931.00" y1="752.72" x2="937.00" y2="752.72" stroke="#231f20" stroke-width="1.0"/>
<line x1="1356.52" y1="1032.00" x2="1356.52" y2="1038.00" stroke="#231f20" stroke-width="1.0"/>
<line x1="931.00" y1="748.80" x2="937.00" y2="748.80" stroke="#231f20" stroke-width="1.0"/>
<line x1="1362.40" y1="1032.00" x2="1362.40" y2="1038.00" stroke="#231f20" stroke-width="1.0"/>
<line x1="931.00" y1="745.41" x2="937.00" y2="745.41" stroke="#231f20" stroke-width="1.0"/>
<line x1="1367.49" y1="1032.00" x2="1367.49" y2="1038.00" stroke="#231f20" stroke-width="1.0"/>
<line x1="931.00" y1="742.42" x2="937.00" y2="742.42" stroke="#231f20" stroke-width="1.0"/>
<line x1="1371.98" y1="1032.00" x2="1371.98" y2="1038.00" stroke="#231f20" stroke-width="1.0"/>
<line x1="925.70" y1="739.75" x2="937.00" y2="739.75" stroke="#231f20" stroke-width="1.2"/>
<line x1="1376.00" y1="1032.00" x2="1376.00" y2="1043.30" stroke="#231f20" stroke-width="1.2"/>
<text x="914.00" y="1040.80" font-size="27.2" text-anchor="end">1</text>
<text transform="translate(949.50,1065.00) rotate(-45)" font-size="27.2" text-anchor="end">1</text>
<text x="914.00" y="982.35" font-size="27.2" text-anchor="end">10</text>
<text transform="translate(1037.30,1065.00) rotate(-45)" font-size="27.2" text-anchor="end">10</text>
<text x="914.00" y="923.90" font-size="27.2" text-anchor="end">100</text>
<text transform="translate(1125.10,1065.00) rotate(-45)" font-size="27.2" text-anchor="end">100</text>
<text x="914.00" y="865.45" font-size="27.2" text-anchor="end">1,000</text>
<text transform="translate(1212.90,1065.00) rotate(-45)" font-size="27.2" text-anchor="end">1,000</text>
<text x="914.00" y="807.00" font-size="27.2" text-anchor="end">10,000</text>
<text transform="translate(1300.70,1065.00) rotate(-45)" font-size="27.2" text-anchor="end">10,000</text>
<text x="914.00" y="748.55" font-size="27.2" text-anchor="end">100,000</text>
<text transform="translate(1388.50,1065.00) rotate(-45)" font-size="27.2" text-anchor="end">100,000</text>
<text transform="translate(768.30,885.88) rotate(-90)" font-size="27.2" text-anchor="middle">Anti-S delta IgG</text>
<text transform="translate(801.10,885.88) rotate(-90)" font-size="27.2" text-anchor="middle">(BAU ml<tspan dy="-12.5" font-size="17">−1</tspan><tspan dy="12.5">)</tspan></text>
<text x="1156.50" y="1169.20" font-size="27.2" text-anchor="middle">Anti-S WT IgG (BAU ml<tspan dy="-12.5" font-size="17">−1</tspan><tspan dy="12.5">)</tspan></text>
<text x="949.00" y="893.20" font-size="27.2" fill="#ec3a30">108</text>
<text x="1176.80" y="1019.20" font-size="27.2" fill="#ec3a30">400</text>
<text x="1268.40" y="952.40" font-size="27.2" word-spacing="-2"><tspan font-style="italic">n</tspan> = 101</text>
<text x="1268.40" y="981.90" font-size="27.2"><tspan font-style="italic">r</tspan> = 0.98</text>
<text x="1268.40" y="1011.00" font-size="27.2" word-spacing="-2"><tspan font-style="italic">P</tspan> &lt; 0.0001</text>
<circle cx="1023.3" cy="988.7" r="4.3" fill="none" stroke="#231f20" stroke-width="2.7"/>
<circle cx="1040.9" cy="987.1" r="4.3" fill="none" stroke="#231f20" stroke-width="2.7"/>
<circle cx="1039.5" cy="976.8" r="4.3" fill="none" stroke="#231f20" stroke-width="2.7"/>
<circle cx="1042.3" cy="958.4" r="4.3" fill="none" stroke="#231f20" stroke-width="2.7"/>
<circle cx="1044.2" cy="961.3" r="4.3" fill="none" stroke="#231f20" stroke-width="2.7"/>
<circle cx="1048.9" cy="975.4" r="4.3" fill="none" stroke="#231f20" stroke-width="2.7"/>
<circle cx="1052.7" cy="976.3" r="4.3" fill="none" stroke="#231f20" stroke-width="2.7"/>
<circle cx="1058.3" cy="979.1" r="4.3" fill="none" stroke="#231f20" stroke-width="2.7"/>
<circle cx="1059.7" cy="967.8" r="4.3" fill="none" stroke="#231f20" stroke-width="2.7"/>
<circle cx="1065.9" cy="974" r="4.3" fill="none" stroke="#231f20" stroke-width="2.7"/>
<circle cx="1063.5" cy="952.3" r="4.3" fill="none" stroke="#231f20" stroke-width="2.7"/>
<circle cx="1067.7" cy="959.4" r="4.3" fill="none" stroke="#231f20" stroke-width="2.7"/>
<circle cx="1071.5" cy="960.8" r="4.3" fill="none" stroke="#231f20" stroke-width="2.7"/>
<circle cx="1077.1" cy="945.3" r="4.3" fill="none" stroke="#231f20" stroke-width="2.7"/>
<circle cx="1080.9" cy="946.7" r="4.3" fill="none" stroke="#231f20" stroke-width="2.7"/>
<circle cx="1079" cy="935.9" r="4.3" fill="none" stroke="#231f20" stroke-width="2.7"/>
<circle cx="1080" cy="964.1" r="4.3" fill="none" stroke="#231f20" stroke-width="2.7"/>
<circle cx="1086.5" cy="960.8" r="4.3" fill="none" stroke="#231f20" stroke-width="2.7"/>
<circle cx="1092.2" cy="964.1" r="4.3" fill="none" stroke="#231f20" stroke-width="2.7"/>
<circle cx="1094.1" cy="939.6" r="4.3" fill="none" stroke="#231f20" stroke-width="2.7"/>
<circle cx="1097.8" cy="933" r="4.3" fill="none" stroke="#231f20" stroke-width="2.7"/>
<circle cx="1100.7" cy="942.4" r="4.3" fill="none" stroke="#231f20" stroke-width="2.7"/>
<circle cx="1104.4" cy="929.3" r="4.3" fill="none" stroke="#231f20" stroke-width="2.7"/>
<circle cx="1107.2" cy="938.7" r="4.3" fill="none" stroke="#231f20" stroke-width="2.7"/>
<circle cx="1105.4" cy="957.5" r="4.3" fill="none" stroke="#231f20" stroke-width="2.7"/>
<circle cx="1104.9" cy="916.6" r="4.3" fill="none" stroke="#231f20" stroke-width="2.7"/>
<circle cx="1112.9" cy="930.2" r="4.3" fill="none" stroke="#231f20" stroke-width="2.7"/>
<circle cx="1117.6" cy="933" r="4.3" fill="none" stroke="#231f20" stroke-width="2.7"/>
<circle cx="1122.3" cy="934" r="4.3" fill="none" stroke="#231f20" stroke-width="2.7"/>
<circle cx="1121.8" cy="947.6" r="4.3" fill="none" stroke="#231f20" stroke-width="2.7"/>
<circle cx="1126.1" cy="918.4" r="4.3" fill="none" stroke="#231f20" stroke-width="2.7"/>
<circle cx="1131.7" cy="921.7" r="4.3" fill="none" stroke="#231f20" stroke-width="2.7"/>
<circle cx="1134.1" cy="944.8" r="4.3" fill="none" stroke="#231f20" stroke-width="2.7"/>
<circle cx="1141.6" cy="921.3" r="4.3" fill="none" stroke="#231f20" stroke-width="2.7"/>
<circle cx="1141.6" cy="932.1" r="4.3" fill="none" stroke="#231f20" stroke-width="2.7"/>
<circle cx="1134.5" cy="888.3" r="4.3" fill="none" stroke="#231f20" stroke-width="2.7"/>
<circle cx="1146.8" cy="907.6" r="4.3" fill="none" stroke="#231f20" stroke-width="2.7"/>
<circle cx="1150.5" cy="906.7" r="4.3" fill="none" stroke="#231f20" stroke-width="2.7"/>
<circle cx="1157.6" cy="920.3" r="4.3" fill="none" stroke="#231f20" stroke-width="2.7"/>
<circle cx="1164.2" cy="897.3" r="4.3" fill="none" stroke="#231f20" stroke-width="2.7"/>
<circle cx="1169.3" cy="901" r="4.3" fill="none" stroke="#231f20" stroke-width="2.7"/>
<circle cx="1170.3" cy="883.2" r="4.3" fill="none" stroke="#231f20" stroke-width="2.7"/>
<circle cx="1174" cy="888.8" r="4.3" fill="none" stroke="#231f20" stroke-width="2.7"/>
<circle cx="1183.4" cy="884.1" r="4.3" fill="none" stroke="#231f20" stroke-width="2.7"/>
<circle cx="1189.6" cy="910" r="4.3" fill="none" stroke="#231f20" stroke-width="2.7"/>
<circle cx="1196.6" cy="901" r="4.3" fill="none" stroke="#231f20" stroke-width="2.7"/>
<circle cx="1170.7" cy="882.4" r="4.3" fill="none" stroke="#231f20" stroke-width="2.7"/>
<circle cx="1173.5" cy="889" r="4.3" fill="none" stroke="#231f20" stroke-width="2.7"/>
<circle cx="1179.6" cy="865.5" r="4.3" fill="none" stroke="#231f20" stroke-width="2.7"/>
<circle cx="1185.7" cy="874" r="4.3" fill="none" stroke="#231f20" stroke-width="2.7"/>
<circle cx="1183.9" cy="883.8" r="4.3" fill="none" stroke="#231f20" stroke-width="2.7"/>
<circle cx="1198.4" cy="879.1" r="4.3" fill="none" stroke="#231f20" stroke-width="2.7"/>
<circle cx="1197" cy="867.8" r="4.3" fill="none" stroke="#231f20" stroke-width="2.7"/>
<circle cx="1202.7" cy="867.8" r="4.3" fill="none" stroke="#231f20" stroke-width="2.7"/>
<circle cx="1208.8" cy="880.1" r="4.3" fill="none" stroke="#231f20" stroke-width="2.7"/>
<circle cx="1208.3" cy="866.9" r="4.3" fill="none" stroke="#231f20" stroke-width="2.7"/>
<circle cx="1214" cy="866" r="4.3" fill="none" stroke="#231f20" stroke-width="2.7"/>
<circle cx="1215.9" cy="854.7" r="4.3" fill="none" stroke="#231f20" stroke-width="2.7"/>
<circle cx="1220.6" cy="850" r="4.3" fill="none" stroke="#231f20" stroke-width="2.7"/>
<circle cx="1222.4" cy="862.2" r="4.3" fill="none" stroke="#231f20" stroke-width="2.7"/>
<circle cx="1224.8" cy="873.5" r="4.3" fill="none" stroke="#231f20" stroke-width="2.7"/>
<circle cx="1227.1" cy="854.7" r="4.3" fill="none" stroke="#231f20" stroke-width="2.7"/>
<circle cx="1231.8" cy="845.3" r="4.3" fill="none" stroke="#231f20" stroke-width="2.7"/>
<circle cx="1230.9" cy="857.5" r="4.3" fill="none" stroke="#231f20" stroke-width="2.7"/>
<circle cx="1233.7" cy="823.2" r="4.3" fill="none" stroke="#231f20" stroke-width="2.7"/>
<circle cx="1238.4" cy="852.8" r="4.3" fill="none" stroke="#231f20" stroke-width="2.7"/>
<circle cx="1243.1" cy="855.6" r="4.3" fill="none" stroke="#231f20" stroke-width="2.7"/>
<circle cx="1242.7" cy="838.7" r="4.3" fill="none" stroke="#231f20" stroke-width="2.7"/>
<circle cx="1244.1" cy="846.2" r="4.3" fill="none" stroke="#231f20" stroke-width="2.7"/>
<circle cx="1250.7" cy="832.1" r="4.3" fill="none" stroke="#231f20" stroke-width="2.7"/>
<circle cx="1256.3" cy="832.1" r="4.3" fill="none" stroke="#231f20" stroke-width="2.7"/>
<circle cx="1263.8" cy="829.3" r="4.3" fill="none" stroke="#231f20" stroke-width="2.7"/>
<circle cx="1271.4" cy="832.1" r="4.3" fill="none" stroke="#231f20" stroke-width="2.7"/>
<circle cx="1275.6" cy="829.3" r="4.3" fill="none" stroke="#231f20" stroke-width="2.7"/>
<circle cx="1281.2" cy="818.9" r="4.3" fill="none" stroke="#231f20" stroke-width="2.7"/>
<circle cx="1273.2" cy="805.7" r="4.3" fill="none" stroke="#231f20" stroke-width="2.7"/>
<circle cx="1275.1" cy="809.5" r="4.3" fill="none" stroke="#231f20" stroke-width="2.7"/>
<circle cx="1293.9" cy="808.6" r="4.3" fill="none" stroke="#231f20" stroke-width="2.7"/>
<circle cx="1298.6" cy="804.8" r="4.3" fill="none" stroke="#231f20" stroke-width="2.7"/>
<circle cx="1298.6" cy="788.8" r="4.3" fill="none" stroke="#231f20" stroke-width="2.7"/>
<circle cx="1297.7" cy="794.5" r="4.3" fill="none" stroke="#231f20" stroke-width="2.7"/>
<circle cx="1296.8" cy="798.2" r="4.3" fill="none" stroke="#231f20" stroke-width="2.7"/>
<circle cx="1040" cy="990" r="4.3" fill="none" stroke="#231f20" stroke-width="2.7"/>
<circle cx="1101" cy="930" r="4.3" fill="none" stroke="#231f20" stroke-width="2.7"/>
<circle cx="1103" cy="926" r="4.3" fill="none" stroke="#231f20" stroke-width="2.7"/>
<circle cx="1108" cy="922" r="4.3" fill="none" stroke="#231f20" stroke-width="2.7"/>
<circle cx="1113" cy="925" r="4.3" fill="none" stroke="#231f20" stroke-width="2.7"/>
<circle cx="1118" cy="929" r="4.3" fill="none" stroke="#231f20" stroke-width="2.7"/>
<circle cx="1123" cy="933" r="4.3" fill="none" stroke="#231f20" stroke-width="2.7"/>
<circle cx="1110" cy="938" r="4.3" fill="none" stroke="#231f20" stroke-width="2.7"/>
<circle cx="1116" cy="936" r="4.3" fill="none" stroke="#231f20" stroke-width="2.7"/>
<circle cx="1106" cy="936" r="4.3" fill="none" stroke="#231f20" stroke-width="2.7"/>
<circle cx="1110" cy="932" r="4.3" fill="none" stroke="#231f20" stroke-width="2.7"/>
<circle cx="1119" cy="931" r="4.3" fill="none" stroke="#231f20" stroke-width="2.7"/>
<circle cx="1218" cy="860" r="4.3" fill="none" stroke="#231f20" stroke-width="2.7"/>
<circle cx="1226" cy="858" r="4.3" fill="none" stroke="#231f20" stroke-width="2.7"/>
<circle cx="1235" cy="848" r="4.3" fill="none" stroke="#231f20" stroke-width="2.7"/>
<circle cx="1276" cy="832" r="4.3" fill="none" stroke="#231f20" stroke-width="2.7"/>
<circle cx="1186" cy="879" r="4.3" fill="none" stroke="#231f20" stroke-width="2.7"/>
<circle cx="1058" cy="975" r="4.3" fill="none" stroke="#231f20" stroke-width="2.7"/>
<circle cx="1074" cy="958" r="4.3" fill="none" stroke="#231f20" stroke-width="2.7"/>
<circle cx="1271" cy="835" r="4.3" fill="none" stroke="#231f20" stroke-width="2.7"/>
<circle cx="1212" cy="870" r="4.3" fill="none" stroke="#231f20" stroke-width="2.7"/>
<circle cx="1100" cy="936" r="4.3" fill="none" stroke="#231f20" stroke-width="2.7"/>
<line x1="428.86" y1="1536.90" x2="428.86" y2="1247.05" stroke="#ec3a30" stroke-width="3.8" stroke-dasharray="0 8.77" stroke-linecap="round"/>
<line x1="200.70" y1="1406.90" x2="639.40" y2="1406.90" stroke="#ec3a30" stroke-width="3.8" stroke-dasharray="0 8.77" stroke-linecap="round"/>
<line x1="200.40" y1="1246.55" x2="200.40" y2="1539.80" stroke="#231f20" stroke-width="1.3"/>
<line x1="199.90" y1="1539.30" x2="639.90" y2="1539.30" stroke="#231f20" stroke-width="1.3"/>
<line x1="189.10" y1="1539.30" x2="200.40" y2="1539.30" stroke="#231f20" stroke-width="1.2"/>
<line x1="200.40" y1="1539.30" x2="200.40" y2="1550.60" stroke="#231f20" stroke-width="1.2"/>
<line x1="194.40" y1="1521.70" x2="200.40" y2="1521.70" stroke="#231f20" stroke-width="1.0"/>
<line x1="226.83" y1="1539.30" x2="226.83" y2="1545.30" stroke="#231f20" stroke-width="1.0"/>
<line x1="194.40" y1="1511.41" x2="200.40" y2="1511.41" stroke="#231f20" stroke-width="1.0"/>
<line x1="242.29" y1="1539.30" x2="242.29" y2="1545.30" stroke="#231f20" stroke-width="1.0"/>
<line x1="194.40" y1="1504.11" x2="200.40" y2="1504.11" stroke="#231f20" stroke-width="1.0"/>
<line x1="253.26" y1="1539.30" x2="253.26" y2="1545.30" stroke="#231f20" stroke-width="1.0"/>
<line x1="194.40" y1="1498.45" x2="200.40" y2="1498.45" stroke="#231f20" stroke-width="1.0"/>
<line x1="261.77" y1="1539.30" x2="261.77" y2="1545.30" stroke="#231f20" stroke-width="1.0"/>
<line x1="194.40" y1="1493.82" x2="200.40" y2="1493.82" stroke="#231f20" stroke-width="1.0"/>
<line x1="268.72" y1="1539.30" x2="268.72" y2="1545.30" stroke="#231f20" stroke-width="1.0"/>
<line x1="194.40" y1="1489.90" x2="200.40" y2="1489.90" stroke="#231f20" stroke-width="1.0"/>
<line x1="274.60" y1="1539.30" x2="274.60" y2="1545.30" stroke="#231f20" stroke-width="1.0"/>
<line x1="194.40" y1="1486.51" x2="200.40" y2="1486.51" stroke="#231f20" stroke-width="1.0"/>
<line x1="279.69" y1="1539.30" x2="279.69" y2="1545.30" stroke="#231f20" stroke-width="1.0"/>
<line x1="194.40" y1="1483.52" x2="200.40" y2="1483.52" stroke="#231f20" stroke-width="1.0"/>
<line x1="284.18" y1="1539.30" x2="284.18" y2="1545.30" stroke="#231f20" stroke-width="1.0"/>
<line x1="189.10" y1="1480.85" x2="200.40" y2="1480.85" stroke="#231f20" stroke-width="1.2"/>
<line x1="288.20" y1="1539.30" x2="288.20" y2="1550.60" stroke="#231f20" stroke-width="1.2"/>
<line x1="194.40" y1="1463.25" x2="200.40" y2="1463.25" stroke="#231f20" stroke-width="1.0"/>
<line x1="314.63" y1="1539.30" x2="314.63" y2="1545.30" stroke="#231f20" stroke-width="1.0"/>
<line x1="194.40" y1="1452.96" x2="200.40" y2="1452.96" stroke="#231f20" stroke-width="1.0"/>
<line x1="330.09" y1="1539.30" x2="330.09" y2="1545.30" stroke="#231f20" stroke-width="1.0"/>
<line x1="194.40" y1="1445.66" x2="200.40" y2="1445.66" stroke="#231f20" stroke-width="1.0"/>
<line x1="341.06" y1="1539.30" x2="341.06" y2="1545.30" stroke="#231f20" stroke-width="1.0"/>
<line x1="194.40" y1="1440.00" x2="200.40" y2="1440.00" stroke="#231f20" stroke-width="1.0"/>
<line x1="349.57" y1="1539.30" x2="349.57" y2="1545.30" stroke="#231f20" stroke-width="1.0"/>
<line x1="194.40" y1="1435.37" x2="200.40" y2="1435.37" stroke="#231f20" stroke-width="1.0"/>
<line x1="356.52" y1="1539.30" x2="356.52" y2="1545.30" stroke="#231f20" stroke-width="1.0"/>
<line x1="194.40" y1="1431.45" x2="200.40" y2="1431.45" stroke="#231f20" stroke-width="1.0"/>
<line x1="362.40" y1="1539.30" x2="362.40" y2="1545.30" stroke="#231f20" stroke-width="1.0"/>
<line x1="194.40" y1="1428.06" x2="200.40" y2="1428.06" stroke="#231f20" stroke-width="1.0"/>
<line x1="367.49" y1="1539.30" x2="367.49" y2="1545.30" stroke="#231f20" stroke-width="1.0"/>
<line x1="194.40" y1="1425.07" x2="200.40" y2="1425.07" stroke="#231f20" stroke-width="1.0"/>
<line x1="371.98" y1="1539.30" x2="371.98" y2="1545.30" stroke="#231f20" stroke-width="1.0"/>
<line x1="189.10" y1="1422.40" x2="200.40" y2="1422.40" stroke="#231f20" stroke-width="1.2"/>
<line x1="376.00" y1="1539.30" x2="376.00" y2="1550.60" stroke="#231f20" stroke-width="1.2"/>
<line x1="194.40" y1="1404.80" x2="200.40" y2="1404.80" stroke="#231f20" stroke-width="1.0"/>
<line x1="402.43" y1="1539.30" x2="402.43" y2="1545.30" stroke="#231f20" stroke-width="1.0"/>
<line x1="194.40" y1="1394.51" x2="200.40" y2="1394.51" stroke="#231f20" stroke-width="1.0"/>
<line x1="417.89" y1="1539.30" x2="417.89" y2="1545.30" stroke="#231f20" stroke-width="1.0"/>
<line x1="194.40" y1="1387.21" x2="200.40" y2="1387.21" stroke="#231f20" stroke-width="1.0"/>
<line x1="428.86" y1="1539.30" x2="428.86" y2="1545.30" stroke="#231f20" stroke-width="1.0"/>
<line x1="194.40" y1="1381.55" x2="200.40" y2="1381.55" stroke="#231f20" stroke-width="1.0"/>
<line x1="437.37" y1="1539.30" x2="437.37" y2="1545.30" stroke="#231f20" stroke-width="1.0"/>
<line x1="194.40" y1="1376.92" x2="200.40" y2="1376.92" stroke="#231f20" stroke-width="1.0"/>
<line x1="444.32" y1="1539.30" x2="444.32" y2="1545.30" stroke="#231f20" stroke-width="1.0"/>
<line x1="194.40" y1="1373.00" x2="200.40" y2="1373.00" stroke="#231f20" stroke-width="1.0"/>
<line x1="450.20" y1="1539.30" x2="450.20" y2="1545.30" stroke="#231f20" stroke-width="1.0"/>
<line x1="194.40" y1="1369.61" x2="200.40" y2="1369.61" stroke="#231f20" stroke-width="1.0"/>
<line x1="455.29" y1="1539.30" x2="455.29" y2="1545.30" stroke="#231f20" stroke-width="1.0"/>
<line x1="194.40" y1="1366.62" x2="200.40" y2="1366.62" stroke="#231f20" stroke-width="1.0"/>
<line x1="459.78" y1="1539.30" x2="459.78" y2="1545.30" stroke="#231f20" stroke-width="1.0"/>
<line x1="189.10" y1="1363.95" x2="200.40" y2="1363.95" stroke="#231f20" stroke-width="1.2"/>
<line x1="463.80" y1="1539.30" x2="463.80" y2="1550.60" stroke="#231f20" stroke-width="1.2"/>
<line x1="194.40" y1="1346.35" x2="200.40" y2="1346.35" stroke="#231f20" stroke-width="1.0"/>
<line x1="490.23" y1="1539.30" x2="490.23" y2="1545.30" stroke="#231f20" stroke-width="1.0"/>
<line x1="194.40" y1="1336.06" x2="200.40" y2="1336.06" stroke="#231f20" stroke-width="1.0"/>
<line x1="505.69" y1="1539.30" x2="505.69" y2="1545.30" stroke="#231f20" stroke-width="1.0"/>
<line x1="194.40" y1="1328.76" x2="200.40" y2="1328.76" stroke="#231f20" stroke-width="1.0"/>
<line x1="516.66" y1="1539.30" x2="516.66" y2="1545.30" stroke="#231f20" stroke-width="1.0"/>
<line x1="194.40" y1="1323.10" x2="200.40" y2="1323.10" stroke="#231f20" stroke-width="1.0"/>
<line x1="525.17" y1="1539.30" x2="525.17" y2="1545.30" stroke="#231f20" stroke-width="1.0"/>
<line x1="194.40" y1="1318.47" x2="200.40" y2="1318.47" stroke="#231f20" stroke-width="1.0"/>
<line x1="532.12" y1="1539.30" x2="532.12" y2="1545.30" stroke="#231f20" stroke-width="1.0"/>
<line x1="194.40" y1="1314.55" x2="200.40" y2="1314.55" stroke="#231f20" stroke-width="1.0"/>
<line x1="538.00" y1="1539.30" x2="538.00" y2="1545.30" stroke="#231f20" stroke-width="1.0"/>
<line x1="194.40" y1="1311.16" x2="200.40" y2="1311.16" stroke="#231f20" stroke-width="1.0"/>
<line x1="543.09" y1="1539.30" x2="543.09" y2="1545.30" stroke="#231f20" stroke-width="1.0"/>
<line x1="194.40" y1="1308.17" x2="200.40" y2="1308.17" stroke="#231f20" stroke-width="1.0"/>
<line x1="547.58" y1="1539.30" x2="547.58" y2="1545.30" stroke="#231f20" stroke-width="1.0"/>
<line x1="189.10" y1="1305.50" x2="200.40" y2="1305.50" stroke="#231f20" stroke-width="1.2"/>
<line x1="551.60" y1="1539.30" x2="551.60" y2="1550.60" stroke="#231f20" stroke-width="1.2"/>
<line x1="194.40" y1="1287.90" x2="200.40" y2="1287.90" stroke="#231f20" stroke-width="1.0"/>
<line x1="578.03" y1="1539.30" x2="578.03" y2="1545.30" stroke="#231f20" stroke-width="1.0"/>
<line x1="194.40" y1="1277.61" x2="200.40" y2="1277.61" stroke="#231f20" stroke-width="1.0"/>
<line x1="593.49" y1="1539.30" x2="593.49" y2="1545.30" stroke="#231f20" stroke-width="1.0"/>
<line x1="194.40" y1="1270.31" x2="200.40" y2="1270.31" stroke="#231f20" stroke-width="1.0"/>
<line x1="604.46" y1="1539.30" x2="604.46" y2="1545.30" stroke="#231f20" stroke-width="1.0"/>
<line x1="194.40" y1="1264.65" x2="200.40" y2="1264.65" stroke="#231f20" stroke-width="1.0"/>
<line x1="612.97" y1="1539.30" x2="612.97" y2="1545.30" stroke="#231f20" stroke-width="1.0"/>
<line x1="194.40" y1="1260.02" x2="200.40" y2="1260.02" stroke="#231f20" stroke-width="1.0"/>
<line x1="619.92" y1="1539.30" x2="619.92" y2="1545.30" stroke="#231f20" stroke-width="1.0"/>
<line x1="194.40" y1="1256.10" x2="200.40" y2="1256.10" stroke="#231f20" stroke-width="1.0"/>
<line x1="625.80" y1="1539.30" x2="625.80" y2="1545.30" stroke="#231f20" stroke-width="1.0"/>
<line x1="194.40" y1="1252.71" x2="200.40" y2="1252.71" stroke="#231f20" stroke-width="1.0"/>
<line x1="630.89" y1="1539.30" x2="630.89" y2="1545.30" stroke="#231f20" stroke-width="1.0"/>
<line x1="194.40" y1="1249.72" x2="200.40" y2="1249.72" stroke="#231f20" stroke-width="1.0"/>
<line x1="635.38" y1="1539.30" x2="635.38" y2="1545.30" stroke="#231f20" stroke-width="1.0"/>
<line x1="189.10" y1="1247.05" x2="200.40" y2="1247.05" stroke="#231f20" stroke-width="1.2"/>
<line x1="639.40" y1="1539.30" x2="639.40" y2="1550.60" stroke="#231f20" stroke-width="1.2"/>
<text x="177.40" y="1548.10" font-size="27.2" text-anchor="end">1</text>
<text transform="translate(212.90,1572.30) rotate(-45)" font-size="27.2" text-anchor="end">1</text>
<text x="177.40" y="1489.65" font-size="27.2" text-anchor="end">10</text>
<text transform="translate(300.70,1572.30) rotate(-45)" font-size="27.2" text-anchor="end">10</text>
<text x="177.40" y="1431.20" font-size="27.2" text-anchor="end">100</text>
<text transform="translate(388.50,1572.30) rotate(-45)" font-size="27.2" text-anchor="end">100</text>
<text x="177.40" y="1372.75" font-size="27.2" text-anchor="end">1,000</text>
<text transform="translate(476.30,1572.30) rotate(-45)" font-size="27.2" text-anchor="end">1,000</text>
<text x="177.40" y="1314.30" font-size="27.2" text-anchor="end">10,000</text>
<text transform="translate(564.10,1572.30) rotate(-45)" font-size="27.2" text-anchor="end">10,000</text>
<text x="177.40" y="1255.85" font-size="27.2" text-anchor="end">100,000</text>
<text transform="translate(651.90,1572.30) rotate(-45)" font-size="27.2" text-anchor="end">100,000</text>
<text transform="translate(31.70,1393.17) rotate(-90)" font-size="27.2" text-anchor="middle">Anti-S alpha IgG</text>
<text transform="translate(64.50,1393.17) rotate(-90)" font-size="27.2" text-anchor="middle">(BAU ml<tspan dy="-12.5" font-size="17">−1</tspan><tspan dy="12.5">)</tspan></text>
<text x="419.90" y="1677.60" font-size="27.2" text-anchor="middle">Anti-S WT IgG (BAU ml<tspan dy="-12.5" font-size="17">−1</tspan><tspan dy="12.5">)</tspan></text>
<text x="210.00" y="1392.60" font-size="27.2" fill="#ec3a30">184</text>
<text x="440.00" y="1524.30" font-size="27.2" fill="#ec3a30">400</text>
<text x="523.00" y="1461.80" font-size="27.2" word-spacing="-2"><tspan font-style="italic">n</tspan> = 101</text>
<text x="523.00" y="1491.40" font-size="27.2"><tspan font-style="italic">r</tspan> = 0.99</text>
<text x="523.00" y="1520.40" font-size="27.2" word-spacing="-2"><tspan font-style="italic">P</tspan> &lt; 0.0001</text>
<circle cx="286.7" cy="1489" r="4.3" fill="none" stroke="#231f20" stroke-width="2.7"/>
<circle cx="302.9" cy="1482.9" r="4.3" fill="none" stroke="#231f20" stroke-width="2.7"/>
<circle cx="304.8" cy="1479.1" r="4.3" fill="none" stroke="#231f20" stroke-width="2.7"/>
<circle cx="307.2" cy="1471.6" r="4.3" fill="none" stroke="#231f20" stroke-width="2.7"/>
<circle cx="311.4" cy="1474.4" r="4.3" fill="none" stroke="#231f20" stroke-width="2.7"/>
<circle cx="317" cy="1474.4" r="4.3" fill="none" stroke="#231f20" stroke-width="2.7"/>
<circle cx="321.3" cy="1468.8" r="4.3" fill="none" stroke="#231f20" stroke-width="2.7"/>
<circle cx="323.6" cy="1472.5" r="4.3" fill="none" stroke="#231f20" stroke-width="2.7"/>
<circle cx="326.9" cy="1459.4" r="4.3" fill="none" stroke="#231f20" stroke-width="2.7"/>
<circle cx="330.2" cy="1465" r="4.3" fill="none" stroke="#231f20" stroke-width="2.7"/>
<circle cx="337.7" cy="1458.4" r="4.3" fill="none" stroke="#231f20" stroke-width="2.7"/>
<circle cx="341.5" cy="1459.4" r="4.3" fill="none" stroke="#231f20" stroke-width="2.7"/>
<circle cx="344.3" cy="1450.9" r="4.3" fill="none" stroke="#231f20" stroke-width="2.7"/>
<circle cx="350" cy="1457.5" r="4.3" fill="none" stroke="#231f20" stroke-width="2.7"/>
<circle cx="356.5" cy="1451.8" r="4.3" fill="none" stroke="#231f20" stroke-width="2.7"/>
<circle cx="357.5" cy="1445.3" r="4.3" fill="none" stroke="#231f20" stroke-width="2.7"/>
<circle cx="362.2" cy="1443.4" r="4.3" fill="none" stroke="#231f20" stroke-width="2.7"/>
<circle cx="367.8" cy="1435.9" r="4.3" fill="none" stroke="#231f20" stroke-width="2.7"/>
<circle cx="366.9" cy="1439.6" r="4.3" fill="none" stroke="#231f20" stroke-width="2.7"/>
<circle cx="371.1" cy="1442.4" r="4.3" fill="none" stroke="#231f20" stroke-width="2.7"/>
<circle cx="380.1" cy="1426.4" r="4.3" fill="none" stroke="#231f20" stroke-width="2.7"/>
<circle cx="383.4" cy="1440.6" r="4.3" fill="none" stroke="#231f20" stroke-width="2.7"/>
<circle cx="384.8" cy="1434" r="4.3" fill="none" stroke="#231f20" stroke-width="2.7"/>
<circle cx="388.5" cy="1423.6" r="4.3" fill="none" stroke="#231f20" stroke-width="2.7"/>
<circle cx="395.1" cy="1421.3" r="4.3" fill="none" stroke="#231f20" stroke-width="2.7"/>
<circle cx="397.5" cy="1432.1" r="4.3" fill="none" stroke="#231f20" stroke-width="2.7"/>
<circle cx="397.9" cy="1410.5" r="4.3" fill="none" stroke="#231f20" stroke-width="2.7"/>
<circle cx="404.5" cy="1415.2" r="4.3" fill="none" stroke="#231f20" stroke-width="2.7"/>
<circle cx="409.2" cy="1414.2" r="4.3" fill="none" stroke="#231f20" stroke-width="2.7"/>
<circle cx="413.5" cy="1405.7" r="4.3" fill="none" stroke="#231f20" stroke-width="2.7"/>
<circle cx="420.5" cy="1418" r="4.3" fill="none" stroke="#231f20" stroke-width="2.7"/>
<circle cx="427.1" cy="1401" r="4.3" fill="none" stroke="#231f20" stroke-width="2.7"/>
<circle cx="431.8" cy="1400.1" r="4.3" fill="none" stroke="#231f20" stroke-width="2.7"/>
<circle cx="435.6" cy="1392.6" r="4.3" fill="none" stroke="#231f20" stroke-width="2.7"/>
<circle cx="443.1" cy="1390.7" r="4.3" fill="none" stroke="#231f20" stroke-width="2.7"/>
<circle cx="446.9" cy="1384.1" r="4.3" fill="none" stroke="#231f20" stroke-width="2.7"/>
<circle cx="453.4" cy="1387.9" r="4.3" fill="none" stroke="#231f20" stroke-width="2.7"/>
<circle cx="459.1" cy="1376.6" r="4.3" fill="none" stroke="#231f20" stroke-width="2.7"/>
<circle cx="461.9" cy="1382.2" r="4.3" fill="none" stroke="#231f20" stroke-width="2.7"/>
<circle cx="433.2" cy="1400.4" r="4.3" fill="none" stroke="#231f20" stroke-width="2.7"/>
<circle cx="434.1" cy="1391" r="4.3" fill="none" stroke="#231f20" stroke-width="2.7"/>
<circle cx="442.6" cy="1390.1" r="4.3" fill="none" stroke="#231f20" stroke-width="2.7"/>
<circle cx="448.2" cy="1381.6" r="4.3" fill="none" stroke="#231f20" stroke-width="2.7"/>
<circle cx="452.9" cy="1388.2" r="4.3" fill="none" stroke="#231f20" stroke-width="2.7"/>
<circle cx="458.6" cy="1376" r="4.3" fill="none" stroke="#231f20" stroke-width="2.7"/>
<circle cx="462.3" cy="1381.6" r="4.3" fill="none" stroke="#231f20" stroke-width="2.7"/>
<circle cx="461.4" cy="1364.7" r="4.3" fill="none" stroke="#231f20" stroke-width="2.7"/>
<circle cx="466.1" cy="1355.3" r="4.3" fill="none" stroke="#231f20" stroke-width="2.7"/>
<circle cx="471.7" cy="1354.3" r="4.3" fill="none" stroke="#231f20" stroke-width="2.7"/>
<circle cx="469.9" cy="1368.4" r="4.3" fill="none" stroke="#231f20" stroke-width="2.7"/>
<circle cx="476.4" cy="1364.7" r="4.3" fill="none" stroke="#231f20" stroke-width="2.7"/>
<circle cx="480.2" cy="1370.3" r="4.3" fill="none" stroke="#231f20" stroke-width="2.7"/>
<circle cx="484" cy="1360" r="4.3" fill="none" stroke="#231f20" stroke-width="2.7"/>
<circle cx="485.9" cy="1353.4" r="4.3" fill="none" stroke="#231f20" stroke-width="2.7"/>
<circle cx="491.5" cy="1349.6" r="4.3" fill="none" stroke="#231f20" stroke-width="2.7"/>
<circle cx="495.3" cy="1355.3" r="4.3" fill="none" stroke="#231f20" stroke-width="2.7"/>
<circle cx="501.8" cy="1352.4" r="4.3" fill="none" stroke="#231f20" stroke-width="2.7"/>
<circle cx="496.7" cy="1340.2" r="4.3" fill="none" stroke="#231f20" stroke-width="2.7"/>
<circle cx="502.8" cy="1342.1" r="4.3" fill="none" stroke="#231f20" stroke-width="2.7"/>
<circle cx="508.4" cy="1344.9" r="4.3" fill="none" stroke="#231f20" stroke-width="2.7"/>
<circle cx="510.3" cy="1338.3" r="4.3" fill="none" stroke="#231f20" stroke-width="2.7"/>
<circle cx="514.1" cy="1336.4" r="4.3" fill="none" stroke="#231f20" stroke-width="2.7"/>
<circle cx="519.7" cy="1333.6" r="4.3" fill="none" stroke="#231f20" stroke-width="2.7"/>
<circle cx="527.2" cy="1332.7" r="4.3" fill="none" stroke="#231f20" stroke-width="2.7"/>
<circle cx="534.8" cy="1333.6" r="4.3" fill="none" stroke="#231f20" stroke-width="2.7"/>
<circle cx="537.6" cy="1328.9" r="4.3" fill="none" stroke="#231f20" stroke-width="2.7"/>
<circle cx="536.7" cy="1314.8" r="4.3" fill="none" stroke="#231f20" stroke-width="2.7"/>
<circle cx="538.5" cy="1319.5" r="4.3" fill="none" stroke="#231f20" stroke-width="2.7"/>
<circle cx="544.6" cy="1320.5" r="4.3" fill="none" stroke="#231f20" stroke-width="2.7"/>
<circle cx="556.4" cy="1299.8" r="4.3" fill="none" stroke="#231f20" stroke-width="2.7"/>
<circle cx="562.1" cy="1296.9" r="4.3" fill="none" stroke="#231f20" stroke-width="2.7"/>
<circle cx="563" cy="1302.6" r="4.3" fill="none" stroke="#231f20" stroke-width="2.7"/>
<circle cx="560.2" cy="1305.4" r="4.3" fill="none" stroke="#231f20" stroke-width="2.7"/>
<circle cx="305" cy="1481" r="4.3" fill="none" stroke="#231f20" stroke-width="2.7"/>
<circle cx="309" cy="1476" r="4.3" fill="none" stroke="#231f20" stroke-width="2.7"/>
<circle cx="314" cy="1472" r="4.3" fill="none" stroke="#231f20" stroke-width="2.7"/>
<circle cx="339" cy="1456" r="4.3" fill="none" stroke="#231f20" stroke-width="2.7"/>
<circle cx="346" cy="1455" r="4.3" fill="none" stroke="#231f20" stroke-width="2.7"/>
<circle cx="353" cy="1452" r="4.3" fill="none" stroke="#231f20" stroke-width="2.7"/>
<circle cx="360" cy="1447" r="4.3" fill="none" stroke="#231f20" stroke-width="2.7"/>
<circle cx="364" cy="1441" r="4.3" fill="none" stroke="#231f20" stroke-width="2.7"/>
<circle cx="369" cy="1438" r="4.3" fill="none" stroke="#231f20" stroke-width="2.7"/>
<circle cx="478" cy="1362" r="4.3" fill="none" stroke="#231f20" stroke-width="2.7"/>
<circle cx="482" cy="1366" r="4.3" fill="none" stroke="#231f20" stroke-width="2.7"/>
<circle cx="488" cy="1356" r="4.3" fill="none" stroke="#231f20" stroke-width="2.7"/>
<circle cx="493" cy="1352" r="4.3" fill="none" stroke="#231f20" stroke-width="2.7"/>
<circle cx="499" cy="1347" r="4.3" fill="none" stroke="#231f20" stroke-width="2.7"/>
<circle cx="505" cy="1343" r="4.3" fill="none" stroke="#231f20" stroke-width="2.7"/>
<circle cx="511" cy="1342" r="4.3" fill="none" stroke="#231f20" stroke-width="2.7"/>
<circle cx="517" cy="1337" r="4.3" fill="none" stroke="#231f20" stroke-width="2.7"/>
<circle cx="523" cy="1335" r="4.3" fill="none" stroke="#231f20" stroke-width="2.7"/>
<circle cx="352" cy="1455" r="4.3" fill="none" stroke="#231f20" stroke-width="2.7"/>
<circle cx="355" cy="1452" r="4.3" fill="none" stroke="#231f20" stroke-width="2.7"/>
<circle cx="358" cy="1449" r="4.3" fill="none" stroke="#231f20" stroke-width="2.7"/>
<circle cx="361" cy="1446" r="4.3" fill="none" stroke="#231f20" stroke-width="2.7"/>
<circle cx="364" cy="1443" r="4.3" fill="none" stroke="#231f20" stroke-width="2.7"/>
<circle cx="367" cy="1440" r="4.3" fill="none" stroke="#231f20" stroke-width="2.7"/>
<circle cx="370" cy="1437" r="4.3" fill="none" stroke="#231f20" stroke-width="2.7"/>
<circle cx="478" cy="1364" r="4.3" fill="none" stroke="#231f20" stroke-width="2.7"/>
<circle cx="481" cy="1361" r="4.3" fill="none" stroke="#231f20" stroke-width="2.7"/>
<circle cx="484" cy="1359" r="4.3" fill="none" stroke="#231f20" stroke-width="2.7"/>
<circle cx="487" cy="1357" r="4.3" fill="none" stroke="#231f20" stroke-width="2.7"/>
<circle cx="490" cy="1354" r="4.3" fill="none" stroke="#231f20" stroke-width="2.7"/>
<circle cx="494" cy="1351" r="4.3" fill="none" stroke="#231f20" stroke-width="2.7"/>
<circle cx="498" cy="1348" r="4.3" fill="none" stroke="#231f20" stroke-width="2.7"/>
<circle cx="502" cy="1345" r="4.3" fill="none" stroke="#231f20" stroke-width="2.7"/>
<circle cx="506" cy="1342" r="4.3" fill="none" stroke="#231f20" stroke-width="2.7"/>
<circle cx="510" cy="1339" r="4.3" fill="none" stroke="#231f20" stroke-width="2.7"/>
<circle cx="558" cy="1300" r="4.3" fill="none" stroke="#231f20" stroke-width="2.7"/>
<circle cx="561" cy="1302" r="4.3" fill="none" stroke="#231f20" stroke-width="2.7"/>
<circle cx="474" cy="1366" r="4.3" fill="none" stroke="#231f20" stroke-width="2.7"/>
<circle cx="359" cy="1448" r="4.3" fill="none" stroke="#231f20" stroke-width="2.7"/>
<line x1="1165.46" y1="1537.10" x2="1165.46" y2="1247.25" stroke="#ec3a30" stroke-width="3.8" stroke-dasharray="0 8.77" stroke-linecap="round"/>
<line x1="937.30" y1="1416.80" x2="1376.00" y2="1416.80" stroke="#ec3a30" stroke-width="3.8" stroke-dasharray="0 8.77" stroke-linecap="round"/>
<line x1="937.00" y1="1246.75" x2="937.00" y2="1540.00" stroke="#231f20" stroke-width="1.3"/>
<line x1="936.50" y1="1539.50" x2="1376.50" y2="1539.50" stroke="#231f20" stroke-width="1.3"/>
<line x1="925.70" y1="1539.50" x2="937.00" y2="1539.50" stroke="#231f20" stroke-width="1.2"/>
<line x1="937.00" y1="1539.50" x2="937.00" y2="1550.80" stroke="#231f20" stroke-width="1.2"/>
<line x1="931.00" y1="1521.90" x2="937.00" y2="1521.90" stroke="#231f20" stroke-width="1.0"/>
<line x1="963.43" y1="1539.50" x2="963.43" y2="1545.50" stroke="#231f20" stroke-width="1.0"/>
<line x1="931.00" y1="1511.61" x2="937.00" y2="1511.61" stroke="#231f20" stroke-width="1.0"/>
<line x1="978.89" y1="1539.50" x2="978.89" y2="1545.50" stroke="#231f20" stroke-width="1.0"/>
<line x1="931.00" y1="1504.31" x2="937.00" y2="1504.31" stroke="#231f20" stroke-width="1.0"/>
<line x1="989.86" y1="1539.50" x2="989.86" y2="1545.50" stroke="#231f20" stroke-width="1.0"/>
<line x1="931.00" y1="1498.65" x2="937.00" y2="1498.65" stroke="#231f20" stroke-width="1.0"/>
<line x1="998.37" y1="1539.50" x2="998.37" y2="1545.50" stroke="#231f20" stroke-width="1.0"/>
<line x1="931.00" y1="1494.02" x2="937.00" y2="1494.02" stroke="#231f20" stroke-width="1.0"/>
<line x1="1005.32" y1="1539.50" x2="1005.32" y2="1545.50" stroke="#231f20" stroke-width="1.0"/>
<line x1="931.00" y1="1490.10" x2="937.00" y2="1490.10" stroke="#231f20" stroke-width="1.0"/>
<line x1="1011.20" y1="1539.50" x2="1011.20" y2="1545.50" stroke="#231f20" stroke-width="1.0"/>
<line x1="931.00" y1="1486.71" x2="937.00" y2="1486.71" stroke="#231f20" stroke-width="1.0"/>
<line x1="1016.29" y1="1539.50" x2="1016.29" y2="1545.50" stroke="#231f20" stroke-width="1.0"/>
<line x1="931.00" y1="1483.72" x2="937.00" y2="1483.72" stroke="#231f20" stroke-width="1.0"/>
<line x1="1020.78" y1="1539.50" x2="1020.78" y2="1545.50" stroke="#231f20" stroke-width="1.0"/>
<line x1="925.70" y1="1481.05" x2="937.00" y2="1481.05" stroke="#231f20" stroke-width="1.2"/>
<line x1="1024.80" y1="1539.50" x2="1024.80" y2="1550.80" stroke="#231f20" stroke-width="1.2"/>
<line x1="931.00" y1="1463.45" x2="937.00" y2="1463.45" stroke="#231f20" stroke-width="1.0"/>
<line x1="1051.23" y1="1539.50" x2="1051.23" y2="1545.50" stroke="#231f20" stroke-width="1.0"/>
<line x1="931.00" y1="1453.16" x2="937.00" y2="1453.16" stroke="#231f20" stroke-width="1.0"/>
<line x1="1066.69" y1="1539.50" x2="1066.69" y2="1545.50" stroke="#231f20" stroke-width="1.0"/>
<line x1="931.00" y1="1445.86" x2="937.00" y2="1445.86" stroke="#231f20" stroke-width="1.0"/>
<line x1="1077.66" y1="1539.50" x2="1077.66" y2="1545.50" stroke="#231f20" stroke-width="1.0"/>
<line x1="931.00" y1="1440.20" x2="937.00" y2="1440.20" stroke="#231f20" stroke-width="1.0"/>
<line x1="1086.17" y1="1539.50" x2="1086.17" y2="1545.50" stroke="#231f20" stroke-width="1.0"/>
<line x1="931.00" y1="1435.57" x2="937.00" y2="1435.57" stroke="#231f20" stroke-width="1.0"/>
<line x1="1093.12" y1="1539.50" x2="1093.12" y2="1545.50" stroke="#231f20" stroke-width="1.0"/>
<line x1="931.00" y1="1431.65" x2="937.00" y2="1431.65" stroke="#231f20" stroke-width="1.0"/>
<line x1="1099.00" y1="1539.50" x2="1099.00" y2="1545.50" stroke="#231f20" stroke-width="1.0"/>
<line x1="931.00" y1="1428.26" x2="937.00" y2="1428.26" stroke="#231f20" stroke-width="1.0"/>
<line x1="1104.09" y1="1539.50" x2="1104.09" y2="1545.50" stroke="#231f20" stroke-width="1.0"/>
<line x1="931.00" y1="1425.27" x2="937.00" y2="1425.27" stroke="#231f20" stroke-width="1.0"/>
<line x1="1108.58" y1="1539.50" x2="1108.58" y2="1545.50" stroke="#231f20" stroke-width="1.0"/>
<line x1="925.70" y1="1422.60" x2="937.00" y2="1422.60" stroke="#231f20" stroke-width="1.2"/>
<line x1="1112.60" y1="1539.50" x2="1112.60" y2="1550.80" stroke="#231f20" stroke-width="1.2"/>
<line x1="931.00" y1="1405.00" x2="937.00" y2="1405.00" stroke="#231f20" stroke-width="1.0"/>
<line x1="1139.03" y1="1539.50" x2="1139.03" y2="1545.50" stroke="#231f20" stroke-width="1.0"/>
<line x1="931.00" y1="1394.71" x2="937.00" y2="1394.71" stroke="#231f20" stroke-width="1.0"/>
<line x1="1154.49" y1="1539.50" x2="1154.49" y2="1545.50" stroke="#231f20" stroke-width="1.0"/>
<line x1="931.00" y1="1387.41" x2="937.00" y2="1387.41" stroke="#231f20" stroke-width="1.0"/>
<line x1="1165.46" y1="1539.50" x2="1165.46" y2="1545.50" stroke="#231f20" stroke-width="1.0"/>
<line x1="931.00" y1="1381.75" x2="937.00" y2="1381.75" stroke="#231f20" stroke-width="1.0"/>
<line x1="1173.97" y1="1539.50" x2="1173.97" y2="1545.50" stroke="#231f20" stroke-width="1.0"/>
<line x1="931.00" y1="1377.12" x2="937.00" y2="1377.12" stroke="#231f20" stroke-width="1.0"/>
<line x1="1180.92" y1="1539.50" x2="1180.92" y2="1545.50" stroke="#231f20" stroke-width="1.0"/>
<line x1="931.00" y1="1373.20" x2="937.00" y2="1373.20" stroke="#231f20" stroke-width="1.0"/>
<line x1="1186.80" y1="1539.50" x2="1186.80" y2="1545.50" stroke="#231f20" stroke-width="1.0"/>
<line x1="931.00" y1="1369.81" x2="937.00" y2="1369.81" stroke="#231f20" stroke-width="1.0"/>
<line x1="1191.89" y1="1539.50" x2="1191.89" y2="1545.50" stroke="#231f20" stroke-width="1.0"/>
<line x1="931.00" y1="1366.82" x2="937.00" y2="1366.82" stroke="#231f20" stroke-width="1.0"/>
<line x1="1196.38" y1="1539.50" x2="1196.38" y2="1545.50" stroke="#231f20" stroke-width="1.0"/>
<line x1="925.70" y1="1364.15" x2="937.00" y2="1364.15" stroke="#231f20" stroke-width="1.2"/>
<line x1="1200.40" y1="1539.50" x2="1200.40" y2="1550.80" stroke="#231f20" stroke-width="1.2"/>
<line x1="931.00" y1="1346.55" x2="937.00" y2="1346.55" stroke="#231f20" stroke-width="1.0"/>
<line x1="1226.83" y1="1539.50" x2="1226.83" y2="1545.50" stroke="#231f20" stroke-width="1.0"/>
<line x1="931.00" y1="1336.26" x2="937.00" y2="1336.26" stroke="#231f20" stroke-width="1.0"/>
<line x1="1242.29" y1="1539.50" x2="1242.29" y2="1545.50" stroke="#231f20" stroke-width="1.0"/>
<line x1="931.00" y1="1328.96" x2="937.00" y2="1328.96" stroke="#231f20" stroke-width="1.0"/>
<line x1="1253.26" y1="1539.50" x2="1253.26" y2="1545.50" stroke="#231f20" stroke-width="1.0"/>
<line x1="931.00" y1="1323.30" x2="937.00" y2="1323.30" stroke="#231f20" stroke-width="1.0"/>
<line x1="1261.77" y1="1539.50" x2="1261.77" y2="1545.50" stroke="#231f20" stroke-width="1.0"/>
<line x1="931.00" y1="1318.67" x2="937.00" y2="1318.67" stroke="#231f20" stroke-width="1.0"/>
<line x1="1268.72" y1="1539.50" x2="1268.72" y2="1545.50" stroke="#231f20" stroke-width="1.0"/>
<line x1="931.00" y1="1314.75" x2="937.00" y2="1314.75" stroke="#231f20" stroke-width="1.0"/>
<line x1="1274.60" y1="1539.50" x2="1274.60" y2="1545.50" stroke="#231f20" stroke-width="1.0"/>
<line x1="931.00" y1="1311.36" x2="937.00" y2="1311.36" stroke="#231f20" stroke-width="1.0"/>
<line x1="1279.69" y1="1539.50" x2="1279.69" y2="1545.50" stroke="#231f20" stroke-width="1.0"/>
<line x1="931.00" y1="1308.37" x2="937.00" y2="1308.37" stroke="#231f20" stroke-width="1.0"/>
<line x1="1284.18" y1="1539.50" x2="1284.18" y2="1545.50" stroke="#231f20" stroke-width="1.0"/>
<line x1="925.70" y1="1305.70" x2="937.00" y2="1305.70" stroke="#231f20" stroke-width="1.2"/>
<line x1="1288.20" y1="1539.50" x2="1288.20" y2="1550.80" stroke="#231f20" stroke-width="1.2"/>
<line x1="931.00" y1="1288.10" x2="937.00" y2="1288.10" stroke="#231f20" stroke-width="1.0"/>
<line x1="1314.63" y1="1539.50" x2="1314.63" y2="1545.50" stroke="#231f20" stroke-width="1.0"/>
<line x1="931.00" y1="1277.81" x2="937.00" y2="1277.81" stroke="#231f20" stroke-width="1.0"/>
<line x1="1330.09" y1="1539.50" x2="1330.09" y2="1545.50" stroke="#231f20" stroke-width="1.0"/>
<line x1="931.00" y1="1270.51" x2="937.00" y2="1270.51" stroke="#231f20" stroke-width="1.0"/>
<line x1="1341.06" y1="1539.50" x2="1341.06" y2="1545.50" stroke="#231f20" stroke-width="1.0"/>
<line x1="931.00" y1="1264.85" x2="937.00" y2="1264.85" stroke="#231f20" stroke-width="1.0"/>
<line x1="1349.57" y1="1539.50" x2="1349.57" y2="1545.50" stroke="#231f20" stroke-width="1.0"/>
<line x1="931.00" y1="1260.22" x2="937.00" y2="1260.22" stroke="#231f20" stroke-width="1.0"/>
<line x1="1356.52" y1="1539.50" x2="1356.52" y2="1545.50" stroke="#231f20" stroke-width="1.0"/>
<line x1="931.00" y1="1256.30" x2="937.00" y2="1256.30" stroke="#231f20" stroke-width="1.0"/>
<line x1="1362.40" y1="1539.50" x2="1362.40" y2="1545.50" stroke="#231f20" stroke-width="1.0"/>
<line x1="931.00" y1="1252.91" x2="937.00" y2="1252.91" stroke="#231f20" stroke-width="1.0"/>
<line x1="1367.49" y1="1539.50" x2="1367.49" y2="1545.50" stroke="#231f20" stroke-width="1.0"/>
<line x1="931.00" y1="1249.92" x2="937.00" y2="1249.92" stroke="#231f20" stroke-width="1.0"/>
<line x1="1371.98" y1="1539.50" x2="1371.98" y2="1545.50" stroke="#231f20" stroke-width="1.0"/>
<line x1="925.70" y1="1247.25" x2="937.00" y2="1247.25" stroke="#231f20" stroke-width="1.2"/>
<line x1="1376.00" y1="1539.50" x2="1376.00" y2="1550.80" stroke="#231f20" stroke-width="1.2"/>
<text x="914.00" y="1548.30" font-size="27.2" text-anchor="end">1</text>
<text transform="translate(949.50,1572.50) rotate(-45)" font-size="27.2" text-anchor="end">1</text>
<text x="914.00" y="1489.85" font-size="27.2" text-anchor="end">10</text>
<text transform="translate(1037.30,1572.50) rotate(-45)" font-size="27.2" text-anchor="end">10</text>
<text x="914.00" y="1431.40" font-size="27.2" text-anchor="end">100</text>
<text transform="translate(1125.10,1572.50) rotate(-45)" font-size="27.2" text-anchor="end">100</text>
<text x="914.00" y="1372.95" font-size="27.2" text-anchor="end">1,000</text>
<text transform="translate(1212.90,1572.50) rotate(-45)" font-size="27.2" text-anchor="end">1,000</text>
<text x="914.00" y="1314.50" font-size="27.2" text-anchor="end">10,000</text>
<text transform="translate(1300.70,1572.50) rotate(-45)" font-size="27.2" text-anchor="end">10,000</text>
<text x="914.00" y="1256.05" font-size="27.2" text-anchor="end">100,000</text>
<text transform="translate(1388.50,1572.50) rotate(-45)" font-size="27.2" text-anchor="end">100,000</text>
<text transform="translate(768.30,1393.38) rotate(-90)" font-size="27.2" text-anchor="middle">Anti-S beta IgG</text>
<text transform="translate(801.10,1393.38) rotate(-90)" font-size="27.2" text-anchor="middle">(BAU ml<tspan dy="-12.5" font-size="17">−1</tspan><tspan dy="12.5">)</tspan></text>
<text x="1156.50" y="1676.80" font-size="27.2" text-anchor="middle">Anti-S WT IgG (BAU ml<tspan dy="-12.5" font-size="17">−1</tspan><tspan dy="12.5">)</tspan></text>
<text x="949.00" y="1399.10" font-size="27.2" fill="#ec3a30">106</text>
<text x="1176.80" y="1525.80" font-size="27.2" fill="#ec3a30">400</text>
<text x="1258.30" y="1462.40" font-size="27.2" word-spacing="-2"><tspan font-style="italic">n</tspan> = 101</text>
<text x="1258.30" y="1491.20" font-size="27.2"><tspan font-style="italic">r</tspan> = 0.98</text>
<text x="1258.30" y="1520.00" font-size="27.2" word-spacing="-2"><tspan font-style="italic">P</tspan> &lt; 0.0001</text>
<circle cx="1023.5" cy="1502.8" r="4.3" fill="none" stroke="#231f20" stroke-width="2.7"/>
<circle cx="1039.5" cy="1490.4" r="4.3" fill="none" stroke="#231f20" stroke-width="2.7"/>
<circle cx="1039.5" cy="1495.1" r="4.3" fill="none" stroke="#231f20" stroke-width="2.7"/>
<circle cx="1041.9" cy="1500.3" r="4.3" fill="none" stroke="#231f20" stroke-width="2.7"/>
<circle cx="1042.3" cy="1462.2" r="4.3" fill="none" stroke="#231f20" stroke-width="2.7"/>
<circle cx="1044.2" cy="1468.8" r="4.3" fill="none" stroke="#231f20" stroke-width="2.7"/>
<circle cx="1049.4" cy="1486.2" r="4.3" fill="none" stroke="#231f20" stroke-width="2.7"/>
<circle cx="1052.7" cy="1486.7" r="4.3" fill="none" stroke="#231f20" stroke-width="2.7"/>
<circle cx="1058.3" cy="1495.6" r="4.3" fill="none" stroke="#231f20" stroke-width="2.7"/>
<circle cx="1059.7" cy="1478.7" r="4.3" fill="none" stroke="#231f20" stroke-width="2.7"/>
<circle cx="1065.9" cy="1490.4" r="4.3" fill="none" stroke="#231f20" stroke-width="2.7"/>
<circle cx="1064" cy="1460.8" r="4.3" fill="none" stroke="#231f20" stroke-width="2.7"/>
<circle cx="1067.3" cy="1473.5" r="4.3" fill="none" stroke="#231f20" stroke-width="2.7"/>
<circle cx="1072" cy="1479.1" r="4.3" fill="none" stroke="#231f20" stroke-width="2.7"/>
<circle cx="1076.2" cy="1454.2" r="4.3" fill="none" stroke="#231f20" stroke-width="2.7"/>
<circle cx="1080.9" cy="1453.7" r="4.3" fill="none" stroke="#231f20" stroke-width="2.7"/>
<circle cx="1079" cy="1443.4" r="4.3" fill="none" stroke="#231f20" stroke-width="2.7"/>
<circle cx="1080.4" cy="1476.3" r="4.3" fill="none" stroke="#231f20" stroke-width="2.7"/>
<circle cx="1087" cy="1471.6" r="4.3" fill="none" stroke="#231f20" stroke-width="2.7"/>
<circle cx="1092.2" cy="1488.5" r="4.3" fill="none" stroke="#231f20" stroke-width="2.7"/>
<circle cx="1094.1" cy="1454.2" r="4.3" fill="none" stroke="#231f20" stroke-width="2.7"/>
<circle cx="1098.3" cy="1444.8" r="4.3" fill="none" stroke="#231f20" stroke-width="2.7"/>
<circle cx="1100.2" cy="1463.6" r="4.3" fill="none" stroke="#231f20" stroke-width="2.7"/>
<circle cx="1102.5" cy="1452.8" r="4.3" fill="none" stroke="#231f20" stroke-width="2.7"/>
<circle cx="1104.4" cy="1475.4" r="4.3" fill="none" stroke="#231f20" stroke-width="2.7"/>
<circle cx="1106.3" cy="1466.9" r="4.3" fill="none" stroke="#231f20" stroke-width="2.7"/>
<circle cx="1107.7" cy="1470.7" r="4.3" fill="none" stroke="#231f20" stroke-width="2.7"/>
<circle cx="1106.3" cy="1445.3" r="4.3" fill="none" stroke="#231f20" stroke-width="2.7"/>
<circle cx="1104.9" cy="1423.6" r="4.3" fill="none" stroke="#231f20" stroke-width="2.7"/>
<circle cx="1112.9" cy="1439.6" r="4.3" fill="none" stroke="#231f20" stroke-width="2.7"/>
<circle cx="1118.5" cy="1443.4" r="4.3" fill="none" stroke="#231f20" stroke-width="2.7"/>
<circle cx="1122.3" cy="1448.1" r="4.3" fill="none" stroke="#231f20" stroke-width="2.7"/>
<circle cx="1125.6" cy="1431.1" r="4.3" fill="none" stroke="#231f20" stroke-width="2.7"/>
<circle cx="1131.2" cy="1432.6" r="4.3" fill="none" stroke="#231f20" stroke-width="2.7"/>
<circle cx="1134.1" cy="1456.1" r="4.3" fill="none" stroke="#231f20" stroke-width="2.7"/>
<circle cx="1134.5" cy="1395.4" r="4.3" fill="none" stroke="#231f20" stroke-width="2.7"/>
<circle cx="1141.1" cy="1425.5" r="4.3" fill="none" stroke="#231f20" stroke-width="2.7"/>
<circle cx="1143" cy="1421.7" r="4.3" fill="none" stroke="#231f20" stroke-width="2.7"/>
<circle cx="1149.6" cy="1416.1" r="4.3" fill="none" stroke="#231f20" stroke-width="2.7"/>
<circle cx="1157.1" cy="1433" r="4.3" fill="none" stroke="#231f20" stroke-width="2.7"/>
<circle cx="1164.6" cy="1412.3" r="4.3" fill="none" stroke="#231f20" stroke-width="2.7"/>
<circle cx="1169.3" cy="1413.3" r="4.3" fill="none" stroke="#231f20" stroke-width="2.7"/>
<circle cx="1169.3" cy="1394.9" r="4.3" fill="none" stroke="#231f20" stroke-width="2.7"/>
<circle cx="1173.1" cy="1400.6" r="4.3" fill="none" stroke="#231f20" stroke-width="2.7"/>
<circle cx="1184.4" cy="1391.6" r="4.3" fill="none" stroke="#231f20" stroke-width="2.7"/>
<circle cx="1187.2" cy="1402.9" r="4.3" fill="none" stroke="#231f20" stroke-width="2.7"/>
<circle cx="1189.6" cy="1426.4" r="4.3" fill="none" stroke="#231f20" stroke-width="2.7"/>
<circle cx="1194.7" cy="1383.2" r="4.3" fill="none" stroke="#231f20" stroke-width="2.7"/>
<circle cx="1197.6" cy="1394.5" r="4.3" fill="none" stroke="#231f20" stroke-width="2.7"/>
<circle cx="1179.2" cy="1370.9" r="4.3" fill="none" stroke="#231f20" stroke-width="2.7"/>
<circle cx="1179.6" cy="1370.2" r="4.3" fill="none" stroke="#231f20" stroke-width="2.7"/>
<circle cx="1185.7" cy="1389.5" r="4.3" fill="none" stroke="#231f20" stroke-width="2.7"/>
<circle cx="1188.1" cy="1403.1" r="4.3" fill="none" stroke="#231f20" stroke-width="2.7"/>
<circle cx="1195.2" cy="1382.4" r="4.3" fill="none" stroke="#231f20" stroke-width="2.7"/>
<circle cx="1198.4" cy="1394.6" r="4.3" fill="none" stroke="#231f20" stroke-width="2.7"/>
<circle cx="1198" cy="1407.3" r="4.3" fill="none" stroke="#231f20" stroke-width="2.7"/>
<circle cx="1202.7" cy="1382.9" r="4.3" fill="none" stroke="#231f20" stroke-width="2.7"/>
<circle cx="1206.4" cy="1388.5" r="4.3" fill="none" stroke="#231f20" stroke-width="2.7"/>
<circle cx="1212.1" cy="1379.1" r="4.3" fill="none" stroke="#231f20" stroke-width="2.7"/>
<circle cx="1216.8" cy="1393.7" r="4.3" fill="none" stroke="#231f20" stroke-width="2.7"/>
<circle cx="1215.9" cy="1366" r="4.3" fill="none" stroke="#231f20" stroke-width="2.7"/>
<circle cx="1223.4" cy="1359.4" r="4.3" fill="none" stroke="#231f20" stroke-width="2.7"/>
<circle cx="1222.4" cy="1369.7" r="4.3" fill="none" stroke="#231f20" stroke-width="2.7"/>
<circle cx="1224.8" cy="1383.8" r="4.3" fill="none" stroke="#231f20" stroke-width="2.7"/>
<circle cx="1231.8" cy="1356.5" r="4.3" fill="none" stroke="#231f20" stroke-width="2.7"/>
<circle cx="1230" cy="1366.9" r="4.3" fill="none" stroke="#231f20" stroke-width="2.7"/>
<circle cx="1238" cy="1369.7" r="4.3" fill="none" stroke="#231f20" stroke-width="2.7"/>
<circle cx="1242.2" cy="1354.7" r="4.3" fill="none" stroke="#231f20" stroke-width="2.7"/>
<circle cx="1245" cy="1358.4" r="4.3" fill="none" stroke="#231f20" stroke-width="2.7"/>
<circle cx="1251.1" cy="1342.4" r="4.3" fill="none" stroke="#231f20" stroke-width="2.7"/>
<circle cx="1256.8" cy="1345.3" r="4.3" fill="none" stroke="#231f20" stroke-width="2.7"/>
<circle cx="1233.3" cy="1326" r="4.3" fill="none" stroke="#231f20" stroke-width="2.7"/>
<circle cx="1263.8" cy="1340.1" r="4.3" fill="none" stroke="#231f20" stroke-width="2.7"/>
<circle cx="1271.4" cy="1344.3" r="4.3" fill="none" stroke="#231f20" stroke-width="2.7"/>
<circle cx="1275.1" cy="1338.7" r="4.3" fill="none" stroke="#231f20" stroke-width="2.7"/>
<circle cx="1281.2" cy="1332.1" r="4.3" fill="none" stroke="#231f20" stroke-width="2.7"/>
<circle cx="1273.2" cy="1316.1" r="4.3" fill="none" stroke="#231f20" stroke-width="2.7"/>
<circle cx="1275.1" cy="1324.6" r="4.3" fill="none" stroke="#231f20" stroke-width="2.7"/>
<circle cx="1293.9" cy="1323.6" r="4.3" fill="none" stroke="#231f20" stroke-width="2.7"/>
<circle cx="1297.7" cy="1318" r="4.3" fill="none" stroke="#231f20" stroke-width="2.7"/>
<circle cx="1298.2" cy="1313.3" r="4.3" fill="none" stroke="#231f20" stroke-width="2.7"/>
<circle cx="1296.8" cy="1303.4" r="4.3" fill="none" stroke="#231f20" stroke-width="2.7"/>
<circle cx="1298.6" cy="1299.2" r="4.3" fill="none" stroke="#231f20" stroke-width="2.7"/>
<circle cx="1102" cy="1449" r="4.3" fill="none" stroke="#231f20" stroke-width="2.7"/>
<circle cx="1120" cy="1446" r="4.3" fill="none" stroke="#231f20" stroke-width="2.7"/>
<circle cx="1145" cy="1420" r="4.3" fill="none" stroke="#231f20" stroke-width="2.7"/>
<circle cx="1208" cy="1380" r="4.3" fill="none" stroke="#231f20" stroke-width="2.7"/>
<circle cx="1218" cy="1366" r="4.3" fill="none" stroke="#231f20" stroke-width="2.7"/>
<circle cx="1226" cy="1362" r="4.3" fill="none" stroke="#231f20" stroke-width="2.7"/>
<circle cx="1244" cy="1356" r="4.3" fill="none" stroke="#231f20" stroke-width="2.7"/>
<circle cx="1276" cy="1336" r="4.3" fill="none" stroke="#231f20" stroke-width="2.7"/>
<circle cx="1040" cy="1493" r="4.3" fill="none" stroke="#231f20" stroke-width="2.7"/>
<circle cx="1110" cy="1470" r="4.3" fill="none" stroke="#231f20" stroke-width="2.7"/>
<circle cx="1228" cy="1368" r="4.3" fill="none" stroke="#231f20" stroke-width="2.7"/>
<circle cx="1200" cy="1390" r="4.3" fill="none" stroke="#231f20" stroke-width="2.7"/>
<circle cx="1147" cy="1418" r="4.3" fill="none" stroke="#231f20" stroke-width="2.7"/>
<circle cx="1219" cy="1372" r="4.3" fill="none" stroke="#231f20" stroke-width="2.7"/>
<circle cx="1247" cy="1353" r="4.3" fill="none" stroke="#231f20" stroke-width="2.7"/>
<circle cx="1279" cy="1334" r="4.3" fill="none" stroke="#231f20" stroke-width="2.7"/>
<circle cx="1108" cy="1472" r="4.3" fill="none" stroke="#231f20" stroke-width="2.7"/>
<circle cx="1220" cy="1368" r="4.3" fill="none" stroke="#231f20" stroke-width="2.7"/>
<line x1="1893.86" y1="1537.20" x2="1893.86" y2="1247.35" stroke="#ec3a30" stroke-width="3.8" stroke-dasharray="0 8.77" stroke-linecap="round"/>
<line x1="1665.70" y1="1412.50" x2="2104.40" y2="1412.50" stroke="#ec3a30" stroke-width="3.8" stroke-dasharray="0 8.77" stroke-linecap="round"/>
<line x1="1665.40" y1="1246.85" x2="1665.40" y2="1540.10" stroke="#231f20" stroke-width="1.3"/>
<line x1="1664.90" y1="1539.60" x2="2104.90" y2="1539.60" stroke="#231f20" stroke-width="1.3"/>
<line x1="1654.10" y1="1539.60" x2="1665.40" y2="1539.60" stroke="#231f20" stroke-width="1.2"/>
<line x1="1665.40" y1="1539.60" x2="1665.40" y2="1550.90" stroke="#231f20" stroke-width="1.2"/>
<line x1="1659.40" y1="1522.00" x2="1665.40" y2="1522.00" stroke="#231f20" stroke-width="1.0"/>
<line x1="1691.83" y1="1539.60" x2="1691.83" y2="1545.60" stroke="#231f20" stroke-width="1.0"/>
<line x1="1659.40" y1="1511.71" x2="1665.40" y2="1511.71" stroke="#231f20" stroke-width="1.0"/>
<line x1="1707.29" y1="1539.60" x2="1707.29" y2="1545.60" stroke="#231f20" stroke-width="1.0"/>
<line x1="1659.40" y1="1504.41" x2="1665.40" y2="1504.41" stroke="#231f20" stroke-width="1.0"/>
<line x1="1718.26" y1="1539.60" x2="1718.26" y2="1545.60" stroke="#231f20" stroke-width="1.0"/>
<line x1="1659.40" y1="1498.75" x2="1665.40" y2="1498.75" stroke="#231f20" stroke-width="1.0"/>
<line x1="1726.77" y1="1539.60" x2="1726.77" y2="1545.60" stroke="#231f20" stroke-width="1.0"/>
<line x1="1659.40" y1="1494.12" x2="1665.40" y2="1494.12" stroke="#231f20" stroke-width="1.0"/>
<line x1="1733.72" y1="1539.60" x2="1733.72" y2="1545.60" stroke="#231f20" stroke-width="1.0"/>
<line x1="1659.40" y1="1490.20" x2="1665.40" y2="1490.20" stroke="#231f20" stroke-width="1.0"/>
<line x1="1739.60" y1="1539.60" x2="1739.60" y2="1545.60" stroke="#231f20" stroke-width="1.0"/>
<line x1="1659.40" y1="1486.81" x2="1665.40" y2="1486.81" stroke="#231f20" stroke-width="1.0"/>
<line x1="1744.69" y1="1539.60" x2="1744.69" y2="1545.60" stroke="#231f20" stroke-width="1.0"/>
<line x1="1659.40" y1="1483.82" x2="1665.40" y2="1483.82" stroke="#231f20" stroke-width="1.0"/>
<line x1="1749.18" y1="1539.60" x2="1749.18" y2="1545.60" stroke="#231f20" stroke-width="1.0"/>
<line x1="1654.10" y1="1481.15" x2="1665.40" y2="1481.15" stroke="#231f20" stroke-width="1.2"/>
<line x1="1753.20" y1="1539.60" x2="1753.20" y2="1550.90" stroke="#231f20" stroke-width="1.2"/>
<line x1="1659.40" y1="1463.55" x2="1665.40" y2="1463.55" stroke="#231f20" stroke-width="1.0"/>
<line x1="1779.63" y1="1539.60" x2="1779.63" y2="1545.60" stroke="#231f20" stroke-width="1.0"/>
<line x1="1659.40" y1="1453.26" x2="1665.40" y2="1453.26" stroke="#231f20" stroke-width="1.0"/>
<line x1="1795.09" y1="1539.60" x2="1795.09" y2="1545.60" stroke="#231f20" stroke-width="1.0"/>
<line x1="1659.40" y1="1445.96" x2="1665.40" y2="1445.96" stroke="#231f20" stroke-width="1.0"/>
<line x1="1806.06" y1="1539.60" x2="1806.06" y2="1545.60" stroke="#231f20" stroke-width="1.0"/>
<line x1="1659.40" y1="1440.30" x2="1665.40" y2="1440.30" stroke="#231f20" stroke-width="1.0"/>
<line x1="1814.57" y1="1539.60" x2="1814.57" y2="1545.60" stroke="#231f20" stroke-width="1.0"/>
<line x1="1659.40" y1="1435.67" x2="1665.40" y2="1435.67" stroke="#231f20" stroke-width="1.0"/>
<line x1="1821.52" y1="1539.60" x2="1821.52" y2="1545.60" stroke="#231f20" stroke-width="1.0"/>
<line x1="1659.40" y1="1431.75" x2="1665.40" y2="1431.75" stroke="#231f20" stroke-width="1.0"/>
<line x1="1827.40" y1="1539.60" x2="1827.40" y2="1545.60" stroke="#231f20" stroke-width="1.0"/>
<line x1="1659.40" y1="1428.36" x2="1665.40" y2="1428.36" stroke="#231f20" stroke-width="1.0"/>
<line x1="1832.49" y1="1539.60" x2="1832.49" y2="1545.60" stroke="#231f20" stroke-width="1.0"/>
<line x1="1659.40" y1="1425.37" x2="1665.40" y2="1425.37" stroke="#231f20" stroke-width="1.0"/>
<line x1="1836.98" y1="1539.60" x2="1836.98" y2="1545.60" stroke="#231f20" stroke-width="1.0"/>
<line x1="1654.10" y1="1422.70" x2="1665.40" y2="1422.70" stroke="#231f20" stroke-width="1.2"/>
<line x1="1841.00" y1="1539.60" x2="1841.00" y2="1550.90" stroke="#231f20" stroke-width="1.2"/>
<line x1="1659.40" y1="1405.10" x2="1665.40" y2="1405.10" stroke="#231f20" stroke-width="1.0"/>
<line x1="1867.43" y1="1539.60" x2="1867.43" y2="1545.60" stroke="#231f20" stroke-width="1.0"/>
<line x1="1659.40" y1="1394.81" x2="1665.40" y2="1394.81" stroke="#231f20" stroke-width="1.0"/>
<line x1="1882.89" y1="1539.60" x2="1882.89" y2="1545.60" stroke="#231f20" stroke-width="1.0"/>
<line x1="1659.40" y1="1387.51" x2="1665.40" y2="1387.51" stroke="#231f20" stroke-width="1.0"/>
<line x1="1893.86" y1="1539.60" x2="1893.86" y2="1545.60" stroke="#231f20" stroke-width="1.0"/>
<line x1="1659.40" y1="1381.85" x2="1665.40" y2="1381.85" stroke="#231f20" stroke-width="1.0"/>
<line x1="1902.37" y1="1539.60" x2="1902.37" y2="1545.60" stroke="#231f20" stroke-width="1.0"/>
<line x1="1659.40" y1="1377.22" x2="1665.40" y2="1377.22" stroke="#231f20" stroke-width="1.0"/>
<line x1="1909.32" y1="1539.60" x2="1909.32" y2="1545.60" stroke="#231f20" stroke-width="1.0"/>
<line x1="1659.40" y1="1373.30" x2="1665.40" y2="1373.30" stroke="#231f20" stroke-width="1.0"/>
<line x1="1915.20" y1="1539.60" x2="1915.20" y2="1545.60" stroke="#231f20" stroke-width="1.0"/>
<line x1="1659.40" y1="1369.91" x2="1665.40" y2="1369.91" stroke="#231f20" stroke-width="1.0"/>
<line x1="1920.29" y1="1539.60" x2="1920.29" y2="1545.60" stroke="#231f20" stroke-width="1.0"/>
<line x1="1659.40" y1="1366.92" x2="1665.40" y2="1366.92" stroke="#231f20" stroke-width="1.0"/>
<line x1="1924.78" y1="1539.60" x2="1924.78" y2="1545.60" stroke="#231f20" stroke-width="1.0"/>
<line x1="1654.10" y1="1364.25" x2="1665.40" y2="1364.25" stroke="#231f20" stroke-width="1.2"/>
<line x1="1928.80" y1="1539.60" x2="1928.80" y2="1550.90" stroke="#231f20" stroke-width="1.2"/>
<line x1="1659.40" y1="1346.65" x2="1665.40" y2="1346.65" stroke="#231f20" stroke-width="1.0"/>
<line x1="1955.23" y1="1539.60" x2="1955.23" y2="1545.60" stroke="#231f20" stroke-width="1.0"/>
<line x1="1659.40" y1="1336.36" x2="1665.40" y2="1336.36" stroke="#231f20" stroke-width="1.0"/>
<line x1="1970.69" y1="1539.60" x2="1970.69" y2="1545.60" stroke="#231f20" stroke-width="1.0"/>
<line x1="1659.40" y1="1329.06" x2="1665.40" y2="1329.06" stroke="#231f20" stroke-width="1.0"/>
<line x1="1981.66" y1="1539.60" x2="1981.66" y2="1545.60" stroke="#231f20" stroke-width="1.0"/>
<line x1="1659.40" y1="1323.40" x2="1665.40" y2="1323.40" stroke="#231f20" stroke-width="1.0"/>
<line x1="1990.17" y1="1539.60" x2="1990.17" y2="1545.60" stroke="#231f20" stroke-width="1.0"/>
<line x1="1659.40" y1="1318.77" x2="1665.40" y2="1318.77" stroke="#231f20" stroke-width="1.0"/>
<line x1="1997.12" y1="1539.60" x2="1997.12" y2="1545.60" stroke="#231f20" stroke-width="1.0"/>
<line x1="1659.40" y1="1314.85" x2="1665.40" y2="1314.85" stroke="#231f20" stroke-width="1.0"/>
<line x1="2003.00" y1="1539.60" x2="2003.00" y2="1545.60" stroke="#231f20" stroke-width="1.0"/>
<line x1="1659.40" y1="1311.46" x2="1665.40" y2="1311.46" stroke="#231f20" stroke-width="1.0"/>
<line x1="2008.09" y1="1539.60" x2="2008.09" y2="1545.60" stroke="#231f20" stroke-width="1.0"/>
<line x1="1659.40" y1="1308.47" x2="1665.40" y2="1308.47" stroke="#231f20" stroke-width="1.0"/>
<line x1="2012.58" y1="1539.60" x2="2012.58" y2="1545.60" stroke="#231f20" stroke-width="1.0"/>
<line x1="1654.10" y1="1305.80" x2="1665.40" y2="1305.80" stroke="#231f20" stroke-width="1.2"/>
<line x1="2016.60" y1="1539.60" x2="2016.60" y2="1550.90" stroke="#231f20" stroke-width="1.2"/>
<line x1="1659.40" y1="1288.20" x2="1665.40" y2="1288.20" stroke="#231f20" stroke-width="1.0"/>
<line x1="2043.03" y1="1539.60" x2="2043.03" y2="1545.60" stroke="#231f20" stroke-width="1.0"/>
<line x1="1659.40" y1="1277.91" x2="1665.40" y2="1277.91" stroke="#231f20" stroke-width="1.0"/>
<line x1="2058.49" y1="1539.60" x2="2058.49" y2="1545.60" stroke="#231f20" stroke-width="1.0"/>
<line x1="1659.40" y1="1270.61" x2="1665.40" y2="1270.61" stroke="#231f20" stroke-width="1.0"/>
<line x1="2069.46" y1="1539.60" x2="2069.46" y2="1545.60" stroke="#231f20" stroke-width="1.0"/>
<line x1="1659.40" y1="1264.95" x2="1665.40" y2="1264.95" stroke="#231f20" stroke-width="1.0"/>
<line x1="2077.97" y1="1539.60" x2="2077.97" y2="1545.60" stroke="#231f20" stroke-width="1.0"/>
<line x1="1659.40" y1="1260.32" x2="1665.40" y2="1260.32" stroke="#231f20" stroke-width="1.0"/>
<line x1="2084.92" y1="1539.60" x2="2084.92" y2="1545.60" stroke="#231f20" stroke-width="1.0"/>
<line x1="1659.40" y1="1256.40" x2="1665.40" y2="1256.40" stroke="#231f20" stroke-width="1.0"/>
<line x1="2090.80" y1="1539.60" x2="2090.80" y2="1545.60" stroke="#231f20" stroke-width="1.0"/>
<line x1="1659.40" y1="1253.01" x2="1665.40" y2="1253.01" stroke="#231f20" stroke-width="1.0"/>
<line x1="2095.89" y1="1539.60" x2="2095.89" y2="1545.60" stroke="#231f20" stroke-width="1.0"/>
<line x1="1659.40" y1="1250.02" x2="1665.40" y2="1250.02" stroke="#231f20" stroke-width="1.0"/>
<line x1="2100.38" y1="1539.60" x2="2100.38" y2="1545.60" stroke="#231f20" stroke-width="1.0"/>
<line x1="1654.10" y1="1247.35" x2="1665.40" y2="1247.35" stroke="#231f20" stroke-width="1.2"/>
<line x1="2104.40" y1="1539.60" x2="2104.40" y2="1550.90" stroke="#231f20" stroke-width="1.2"/>
<text x="1642.40" y="1548.40" font-size="27.2" text-anchor="end">1</text>
<text transform="translate(1677.90,1572.60) rotate(-45)" font-size="27.2" text-anchor="end">1</text>
<text x="1642.40" y="1489.95" font-size="27.2" text-anchor="end">10</text>
<text transform="translate(1765.70,1572.60) rotate(-45)" font-size="27.2" text-anchor="end">10</text>
<text x="1642.40" y="1431.50" font-size="27.2" text-anchor="end">100</text>
<text transform="translate(1853.50,1572.60) rotate(-45)" font-size="27.2" text-anchor="end">100</text>
<text x="1642.40" y="1373.05" font-size="27.2" text-anchor="end">1,000</text>
<text transform="translate(1941.30,1572.60) rotate(-45)" font-size="27.2" text-anchor="end">1,000</text>
<text x="1642.40" y="1314.60" font-size="27.2" text-anchor="end">10,000</text>
<text transform="translate(2029.10,1572.60) rotate(-45)" font-size="27.2" text-anchor="end">10,000</text>
<text x="1642.40" y="1256.15" font-size="27.2" text-anchor="end">100,000</text>
<text transform="translate(2116.90,1572.60) rotate(-45)" font-size="27.2" text-anchor="end">100,000</text>
<text transform="translate(1496.70,1393.47) rotate(-90)" font-size="27.2" text-anchor="middle">Anti-S gamma IgG</text>
<text transform="translate(1529.50,1393.47) rotate(-90)" font-size="27.2" text-anchor="middle">(BAU ml<tspan dy="-12.5" font-size="17">−1</tspan><tspan dy="12.5">)</tspan></text>
<text x="1884.90" y="1676.80" font-size="27.2" text-anchor="middle">Anti-S WT IgG (BAU ml<tspan dy="-12.5" font-size="17">−1</tspan><tspan dy="12.5">)</tspan></text>
<text x="1677.20" y="1397.60" font-size="27.2" fill="#ec3a30">128</text>
<text x="1904.40" y="1527.60" font-size="27.2" fill="#ec3a30">400</text>
<text x="1994.50" y="1461.80" font-size="27.2" word-spacing="-2"><tspan font-style="italic">n</tspan> = 101</text>
<text x="1994.50" y="1491.40" font-size="27.2"><tspan font-style="italic">r</tspan> = 0.99</text>
<text x="1994.50" y="1520.40" font-size="27.2" word-spacing="-2"><tspan font-style="italic">P</tspan> &lt; 0.0001</text>
<circle cx="1751.4" cy="1497.9" r="4.3" fill="none" stroke="#231f20" stroke-width="2.7"/>
<circle cx="1768.6" cy="1496.1" r="4.3" fill="none" stroke="#231f20" stroke-width="2.7"/>
<circle cx="1770" cy="1497.9" r="4.3" fill="none" stroke="#231f20" stroke-width="2.7"/>
<circle cx="1768.1" cy="1485.2" r="4.3" fill="none" stroke="#231f20" stroke-width="2.7"/>
<circle cx="1771.4" cy="1467.8" r="4.3" fill="none" stroke="#231f20" stroke-width="2.7"/>
<circle cx="1777" cy="1485.2" r="4.3" fill="none" stroke="#231f20" stroke-width="2.7"/>
<circle cx="1782.7" cy="1485.2" r="4.3" fill="none" stroke="#231f20" stroke-width="2.7"/>
<circle cx="1786.4" cy="1489" r="4.3" fill="none" stroke="#231f20" stroke-width="2.7"/>
<circle cx="1788.3" cy="1475.4" r="4.3" fill="none" stroke="#231f20" stroke-width="2.7"/>
<circle cx="1794" cy="1485.7" r="4.3" fill="none" stroke="#231f20" stroke-width="2.7"/>
<circle cx="1791.6" cy="1459.8" r="4.3" fill="none" stroke="#231f20" stroke-width="2.7"/>
<circle cx="1795.9" cy="1467.8" r="4.3" fill="none" stroke="#231f20" stroke-width="2.7"/>
<circle cx="1800.1" cy="1472.1" r="4.3" fill="none" stroke="#231f20" stroke-width="2.7"/>
<circle cx="1803.4" cy="1452.8" r="4.3" fill="none" stroke="#231f20" stroke-width="2.7"/>
<circle cx="1809" cy="1454.2" r="4.3" fill="none" stroke="#231f20" stroke-width="2.7"/>
<circle cx="1807.1" cy="1442" r="4.3" fill="none" stroke="#231f20" stroke-width="2.7"/>
<circle cx="1808.1" cy="1474.4" r="4.3" fill="none" stroke="#231f20" stroke-width="2.7"/>
<circle cx="1814.7" cy="1473" r="4.3" fill="none" stroke="#231f20" stroke-width="2.7"/>
<circle cx="1820.3" cy="1473" r="4.3" fill="none" stroke="#231f20" stroke-width="2.7"/>
<circle cx="1821.7" cy="1450.4" r="4.3" fill="none" stroke="#231f20" stroke-width="2.7"/>
<circle cx="1826" cy="1442.4" r="4.3" fill="none" stroke="#231f20" stroke-width="2.7"/>
<circle cx="1829.7" cy="1448.1" r="4.3" fill="none" stroke="#231f20" stroke-width="2.7"/>
<circle cx="1832.5" cy="1459.4" r="4.3" fill="none" stroke="#231f20" stroke-width="2.7"/>
<circle cx="1833" cy="1468.3" r="4.3" fill="none" stroke="#231f20" stroke-width="2.7"/>
<circle cx="1833" cy="1422.2" r="4.3" fill="none" stroke="#231f20" stroke-width="2.7"/>
<circle cx="1835.4" cy="1439.6" r="4.3" fill="none" stroke="#231f20" stroke-width="2.7"/>
<circle cx="1841" cy="1442.4" r="4.3" fill="none" stroke="#231f20" stroke-width="2.7"/>
<circle cx="1846.6" cy="1441.5" r="4.3" fill="none" stroke="#231f20" stroke-width="2.7"/>
<circle cx="1851.4" cy="1445.7" r="4.3" fill="none" stroke="#231f20" stroke-width="2.7"/>
<circle cx="1849.9" cy="1459.4" r="4.3" fill="none" stroke="#231f20" stroke-width="2.7"/>
<circle cx="1853.7" cy="1427.9" r="4.3" fill="none" stroke="#231f20" stroke-width="2.7"/>
<circle cx="1859.8" cy="1432.6" r="4.3" fill="none" stroke="#231f20" stroke-width="2.7"/>
<circle cx="1862.2" cy="1456.1" r="4.3" fill="none" stroke="#231f20" stroke-width="2.7"/>
<circle cx="1862.6" cy="1389.8" r="4.3" fill="none" stroke="#231f20" stroke-width="2.7"/>
<circle cx="1869.2" cy="1431.1" r="4.3" fill="none" stroke="#231f20" stroke-width="2.7"/>
<circle cx="1869.7" cy="1443.4" r="4.3" fill="none" stroke="#231f20" stroke-width="2.7"/>
<circle cx="1874.9" cy="1417" r="4.3" fill="none" stroke="#231f20" stroke-width="2.7"/>
<circle cx="1877.7" cy="1417.5" r="4.3" fill="none" stroke="#231f20" stroke-width="2.7"/>
<circle cx="1885.2" cy="1428.8" r="4.3" fill="none" stroke="#231f20" stroke-width="2.7"/>
<circle cx="1891.8" cy="1408.6" r="4.3" fill="none" stroke="#231f20" stroke-width="2.7"/>
<circle cx="1897.4" cy="1413.3" r="4.3" fill="none" stroke="#231f20" stroke-width="2.7"/>
<circle cx="1898.4" cy="1394" r="4.3" fill="none" stroke="#231f20" stroke-width="2.7"/>
<circle cx="1901.2" cy="1398.2" r="4.3" fill="none" stroke="#231f20" stroke-width="2.7"/>
<circle cx="1906.9" cy="1371.9" r="4.3" fill="none" stroke="#231f20" stroke-width="2.7"/>
<circle cx="1912.5" cy="1391.6" r="4.3" fill="none" stroke="#231f20" stroke-width="2.7"/>
<circle cx="1915.3" cy="1385.1" r="4.3" fill="none" stroke="#231f20" stroke-width="2.7"/>
<circle cx="1918.1" cy="1393.5" r="4.3" fill="none" stroke="#231f20" stroke-width="2.7"/>
<circle cx="1917.7" cy="1415.2" r="4.3" fill="none" stroke="#231f20" stroke-width="2.7"/>
<circle cx="1924.7" cy="1406.7" r="4.3" fill="none" stroke="#231f20" stroke-width="2.7"/>
<circle cx="1925.7" cy="1388.8" r="4.3" fill="none" stroke="#231f20" stroke-width="2.7"/>
<circle cx="1926.6" cy="1376.6" r="4.3" fill="none" stroke="#231f20" stroke-width="2.7"/>
<circle cx="1907.3" cy="1371.7" r="4.3" fill="none" stroke="#231f20" stroke-width="2.7"/>
<circle cx="1911.5" cy="1391.5" r="4.3" fill="none" stroke="#231f20" stroke-width="2.7"/>
<circle cx="1914.3" cy="1384.4" r="4.3" fill="none" stroke="#231f20" stroke-width="2.7"/>
<circle cx="1916.7" cy="1392.9" r="4.3" fill="none" stroke="#231f20" stroke-width="2.7"/>
<circle cx="1925.2" cy="1389.6" r="4.3" fill="none" stroke="#231f20" stroke-width="2.7"/>
<circle cx="1925.2" cy="1407" r="4.3" fill="none" stroke="#231f20" stroke-width="2.7"/>
<circle cx="1917.6" cy="1415.5" r="4.3" fill="none" stroke="#231f20" stroke-width="2.7"/>
<circle cx="1936.4" cy="1392.9" r="4.3" fill="none" stroke="#231f20" stroke-width="2.7"/>
<circle cx="1927" cy="1376" r="4.3" fill="none" stroke="#231f20" stroke-width="2.7"/>
<circle cx="1932.7" cy="1378.8" r="4.3" fill="none" stroke="#231f20" stroke-width="2.7"/>
<circle cx="1938.3" cy="1376.9" r="4.3" fill="none" stroke="#231f20" stroke-width="2.7"/>
<circle cx="1945.9" cy="1374.1" r="4.3" fill="none" stroke="#231f20" stroke-width="2.7"/>
<circle cx="1951.5" cy="1373.1" r="4.3" fill="none" stroke="#231f20" stroke-width="2.7"/>
<circle cx="1952.9" cy="1385.8" r="4.3" fill="none" stroke="#231f20" stroke-width="2.7"/>
<circle cx="1944" cy="1366.5" r="4.3" fill="none" stroke="#231f20" stroke-width="2.7"/>
<circle cx="1948.7" cy="1360" r="4.3" fill="none" stroke="#231f20" stroke-width="2.7"/>
<circle cx="1954.3" cy="1364.7" r="4.3" fill="none" stroke="#231f20" stroke-width="2.7"/>
<circle cx="1960" cy="1354.3" r="4.3" fill="none" stroke="#231f20" stroke-width="2.7"/>
<circle cx="1960.9" cy="1362.8" r="4.3" fill="none" stroke="#231f20" stroke-width="2.7"/>
<circle cx="1961.8" cy="1331.7" r="4.3" fill="none" stroke="#231f20" stroke-width="2.7"/>
<circle cx="1966.5" cy="1366.5" r="4.3" fill="none" stroke="#231f20" stroke-width="2.7"/>
<circle cx="1970.8" cy="1366.5" r="4.3" fill="none" stroke="#231f20" stroke-width="2.7"/>
<circle cx="1970.3" cy="1349.6" r="4.3" fill="none" stroke="#231f20" stroke-width="2.7"/>
<circle cx="1973.1" cy="1357.1" r="4.3" fill="none" stroke="#231f20" stroke-width="2.7"/>
<circle cx="1979.2" cy="1340.7" r="4.3" fill="none" stroke="#231f20" stroke-width="2.7"/>
<circle cx="1984.4" cy="1342.6" r="4.3" fill="none" stroke="#231f20" stroke-width="2.7"/>
<circle cx="1992" cy="1339.3" r="4.3" fill="none" stroke="#231f20" stroke-width="2.7"/>
<circle cx="2001.4" cy="1340.2" r="4.3" fill="none" stroke="#231f20" stroke-width="2.7"/>
<circle cx="2002.3" cy="1336.4" r="4.3" fill="none" stroke="#231f20" stroke-width="2.7"/>
<circle cx="2008.9" cy="1330.3" r="4.3" fill="none" stroke="#231f20" stroke-width="2.7"/>
<circle cx="2001.8" cy="1317.2" r="4.3" fill="none" stroke="#231f20" stroke-width="2.7"/>
<circle cx="2002.3" cy="1318.6" r="4.3" fill="none" stroke="#231f20" stroke-width="2.7"/>
<circle cx="2022" cy="1318.6" r="4.3" fill="none" stroke="#231f20" stroke-width="2.7"/>
<circle cx="2026.8" cy="1315.7" r="4.3" fill="none" stroke="#231f20" stroke-width="2.7"/>
<circle cx="2026.8" cy="1301.6" r="4.3" fill="none" stroke="#231f20" stroke-width="2.7"/>
<circle cx="2024" cy="1304.5" r="4.3" fill="none" stroke="#231f20" stroke-width="2.7"/>
<circle cx="1830" cy="1447" r="4.3" fill="none" stroke="#231f20" stroke-width="2.7"/>
<circle cx="1835" cy="1452" r="4.3" fill="none" stroke="#231f20" stroke-width="2.7"/>
<circle cx="1941" cy="1372" r="4.3" fill="none" stroke="#231f20" stroke-width="2.7"/>
<circle cx="1949" cy="1366" r="4.3" fill="none" stroke="#231f20" stroke-width="2.7"/>
<circle cx="1956" cy="1360" r="4.3" fill="none" stroke="#231f20" stroke-width="2.7"/>
<circle cx="1935" cy="1380" r="4.3" fill="none" stroke="#231f20" stroke-width="2.7"/>
<circle cx="2004" cy="1338" r="4.3" fill="none" stroke="#231f20" stroke-width="2.7"/>
<circle cx="2027" cy="1303" r="4.3" fill="none" stroke="#231f20" stroke-width="2.7"/>
<circle cx="1770" cy="1494" r="4.3" fill="none" stroke="#231f20" stroke-width="2.7"/>
<circle cx="1830" cy="1444" r="4.3" fill="none" stroke="#231f20" stroke-width="2.7"/>
<circle cx="1953" cy="1368" r="4.3" fill="none" stroke="#231f20" stroke-width="2.7"/>
<circle cx="1947" cy="1370" r="4.3" fill="none" stroke="#231f20" stroke-width="2.7"/>
<circle cx="1958" cy="1365" r="4.3" fill="none" stroke="#231f20" stroke-width="2.7"/>
</svg>
</body></html>
